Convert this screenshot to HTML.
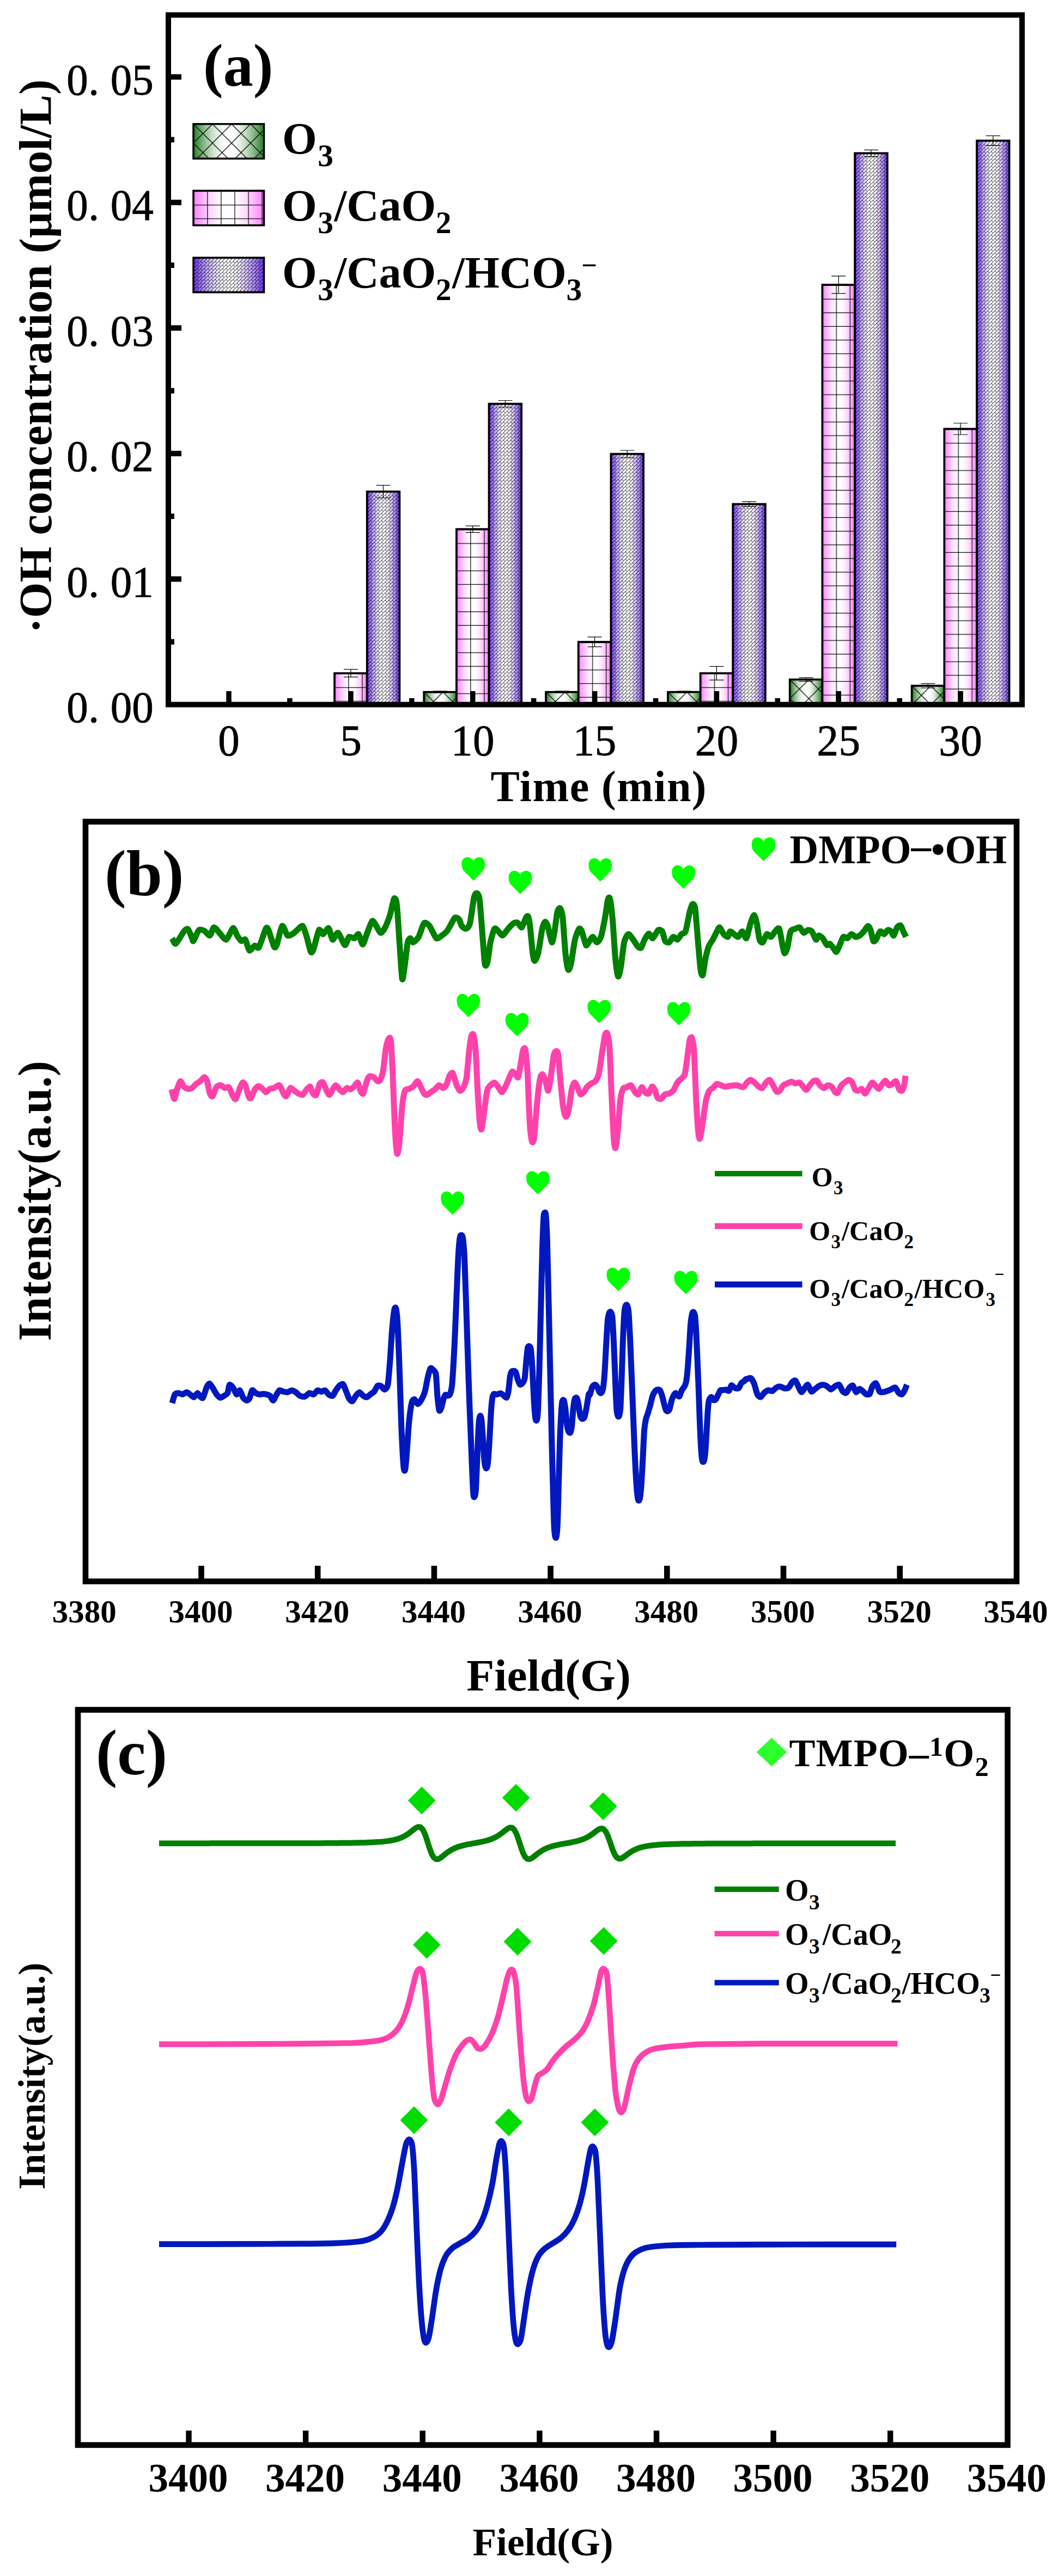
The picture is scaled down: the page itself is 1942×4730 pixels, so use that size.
<!DOCTYPE html>
<html><head><meta charset="utf-8"><title>figure</title>
<style>html,body{margin:0;padding:0;background:#fff}svg{display:block}text{font-family:"Liberation Serif", serif;fill:#000}</style></head><body>
<svg width="1942" height="4730" viewBox="0 0 1942 4730">
<rect width="1942" height="4730" fill="#fff"/>
<defs>
<linearGradient id="gG" x1="0" x2="1" y1="0" y2="0"><stop offset="0.00" stop-color="#237d23"/><stop offset="0.05" stop-color="#459145"/><stop offset="0.10" stop-color="#67a567"/><stop offset="0.15" stop-color="#87b887"/><stop offset="0.20" stop-color="#a4c9a4"/><stop offset="0.25" stop-color="#bfd9bf"/><stop offset="0.30" stop-color="#d5e6d5"/><stop offset="0.35" stop-color="#e7f1e7"/><stop offset="0.40" stop-color="#f4f9f4"/><stop offset="0.45" stop-color="#fcfdfc"/><stop offset="0.50" stop-color="#ffffff"/><stop offset="0.55" stop-color="#fcfdfc"/><stop offset="0.60" stop-color="#f4f9f4"/><stop offset="0.65" stop-color="#e7f1e7"/><stop offset="0.70" stop-color="#d5e6d5"/><stop offset="0.75" stop-color="#bfd9bf"/><stop offset="0.80" stop-color="#a4c9a4"/><stop offset="0.85" stop-color="#87b887"/><stop offset="0.90" stop-color="#67a567"/><stop offset="0.95" stop-color="#459145"/><stop offset="1.00" stop-color="#237d23"/></linearGradient>
<linearGradient id="gP" x1="0" x2="1" y1="0" y2="0"><stop offset="0.00" stop-color="#ff7dff"/><stop offset="0.05" stop-color="#ff91ff"/><stop offset="0.10" stop-color="#ffa5ff"/><stop offset="0.15" stop-color="#ffb8ff"/><stop offset="0.20" stop-color="#ffc9ff"/><stop offset="0.25" stop-color="#ffd9ff"/><stop offset="0.30" stop-color="#ffe6ff"/><stop offset="0.35" stop-color="#fff1ff"/><stop offset="0.40" stop-color="#fff9ff"/><stop offset="0.45" stop-color="#fffdff"/><stop offset="0.50" stop-color="#ffffff"/><stop offset="0.55" stop-color="#fffdff"/><stop offset="0.60" stop-color="#fff9ff"/><stop offset="0.65" stop-color="#fff1ff"/><stop offset="0.70" stop-color="#ffe6ff"/><stop offset="0.75" stop-color="#ffd9ff"/><stop offset="0.80" stop-color="#ffc9ff"/><stop offset="0.85" stop-color="#ffb8ff"/><stop offset="0.90" stop-color="#ffa5ff"/><stop offset="0.95" stop-color="#ff91ff"/><stop offset="1.00" stop-color="#ff7dff"/></linearGradient>
<linearGradient id="gV" x1="0" x2="1" y1="0" y2="0"><stop offset="0.00" stop-color="#6c30f2"/><stop offset="0.05" stop-color="#8350f4"/><stop offset="0.10" stop-color="#9970f6"/><stop offset="0.15" stop-color="#af8ef8"/><stop offset="0.20" stop-color="#c2aafa"/><stop offset="0.25" stop-color="#d4c2fb"/><stop offset="0.30" stop-color="#e3d7fd"/><stop offset="0.35" stop-color="#efe8fe"/><stop offset="0.40" stop-color="#f8f5fe"/><stop offset="0.45" stop-color="#fdfcff"/><stop offset="0.50" stop-color="#ffffff"/><stop offset="0.55" stop-color="#fdfcff"/><stop offset="0.60" stop-color="#f8f5fe"/><stop offset="0.65" stop-color="#efe8fe"/><stop offset="0.70" stop-color="#e3d7fd"/><stop offset="0.75" stop-color="#d4c2fb"/><stop offset="0.80" stop-color="#c2aafa"/><stop offset="0.85" stop-color="#af8ef8"/><stop offset="0.90" stop-color="#9970f6"/><stop offset="0.95" stop-color="#8350f4"/><stop offset="1.00" stop-color="#6c30f2"/></linearGradient>
<pattern id="pX" width="35" height="35" patternUnits="userSpaceOnUse"><path d="M-2,-2L37,37M37,-2L-2,37" stroke="#000" stroke-width="1.3" fill="none"/></pattern>
<pattern id="pGrid" width="25.07" height="25.07" patternUnits="userSpaceOnUse"><path d="M0.8,0V26M0,1.4H26" stroke="#000" stroke-width="1.2" fill="none"/></pattern>
<pattern id="pW" width="13.30" height="13.30" patternUnits="userSpaceOnUse"><g stroke="#000" stroke-width="0.9"><line x1="-1.65" y1="-5.00" x2="-5.00" y2="-1.65"/><line x1="5.00" y1="-5.00" x2="-5.00" y2="5.00"/><line x1="11.65" y1="-5.00" x2="-5.00" y2="11.65"/><line x1="18.30" y1="-5.00" x2="-5.00" y2="18.30"/><line x1="24.95" y1="-5.00" x2="-5.00" y2="24.95"/><line x1="31.60" y1="-5.00" x2="-5.00" y2="31.60"/><line x1="0.00" y1="0.00" x2="3.33" y2="3.33"/><line x1="0.00" y1="6.65" x2="3.33" y2="9.98"/><line x1="6.65" y1="0.00" x2="9.98" y2="3.33"/><line x1="0.00" y1="13.30" x2="3.33" y2="16.62"/><line x1="6.65" y1="6.65" x2="9.98" y2="9.98"/><line x1="13.30" y1="0.00" x2="16.62" y2="3.33"/><line x1="6.65" y1="13.30" x2="9.98" y2="16.62"/><line x1="13.30" y1="6.65" x2="16.62" y2="9.98"/><line x1="13.30" y1="13.30" x2="16.62" y2="16.62"/></g></pattern>
</defs>
<g id="bars">
<g transform="translate(614.0,1236.2)"><rect width="59.7" height="57.5" fill="url(#gP)"/><rect width="59.7" height="57.5" fill="url(#pGrid)" stroke="#000" stroke-width="3.7"/></g>
<path d="M643.9,1229.2V1243.2M630.9,1229.2H656.9M630.9,1243.2H656.9" stroke="#000" stroke-width="1.2" fill="none"/>
<g transform="translate(673.7,902.6)"><rect width="59.7" height="391.2" fill="url(#gV)"/><rect width="59.7" height="391.2" fill="url(#pW)" stroke="#000" stroke-width="3.7"/></g>
<path d="M703.5,891.1V914.1M690.5,891.1H716.5M690.5,914.1H716.5" stroke="#000" stroke-width="1.2" fill="none"/>
<g transform="translate(778.2,1270.7)"><rect width="59.7" height="23.0" fill="url(#gG)"/><rect width="59.7" height="23.0" fill="url(#pX)" stroke="#000" stroke-width="3.7"/></g>
<path d="M808.0,1269.2V1272.2M795.0,1269.2H821.0M795.0,1272.2H821.0" stroke="#000" stroke-width="1.2" fill="none"/>
<g transform="translate(837.9,971.6)"><rect width="59.7" height="322.1" fill="url(#gP)"/><rect width="59.7" height="322.1" fill="url(#pGrid)" stroke="#000" stroke-width="3.7"/></g>
<path d="M867.7,965.6V977.6M854.7,965.6H880.7M854.7,977.6H880.7" stroke="#000" stroke-width="1.2" fill="none"/>
<g transform="translate(897.5,741.5)"><rect width="59.7" height="552.2" fill="url(#gV)"/><rect width="59.7" height="552.2" fill="url(#pW)" stroke="#000" stroke-width="3.7"/></g>
<path d="M927.4,735.5V747.5M914.4,735.5H940.4M914.4,747.5H940.4" stroke="#000" stroke-width="1.2" fill="none"/>
<g transform="translate(1002.0,1270.7)"><rect width="59.7" height="23.0" fill="url(#gG)"/><rect width="59.7" height="23.0" fill="url(#pX)" stroke="#000" stroke-width="3.7"/></g>
<path d="M1031.9,1269.2V1272.2M1018.9,1269.2H1044.9M1018.9,1272.2H1044.9" stroke="#000" stroke-width="1.2" fill="none"/>
<g transform="translate(1061.7,1178.7)"><rect width="59.7" height="115.0" fill="url(#gP)"/><rect width="59.7" height="115.0" fill="url(#pGrid)" stroke="#000" stroke-width="3.7"/></g>
<path d="M1091.6,1169.7V1187.7M1078.6,1169.7H1104.6M1078.6,1187.7H1104.6" stroke="#000" stroke-width="1.2" fill="none"/>
<g transform="translate(1121.4,833.5)"><rect width="59.7" height="460.2" fill="url(#gV)"/><rect width="59.7" height="460.2" fill="url(#pW)" stroke="#000" stroke-width="3.7"/></g>
<path d="M1151.2,827.0V840.0M1138.2,827.0H1164.2M1138.2,840.0H1164.2" stroke="#000" stroke-width="1.2" fill="none"/>
<g transform="translate(1225.9,1270.7)"><rect width="59.7" height="23.0" fill="url(#gG)"/><rect width="59.7" height="23.0" fill="url(#pX)" stroke="#000" stroke-width="3.7"/></g>
<path d="M1255.7,1269.2V1272.2M1242.7,1269.2H1268.7M1242.7,1272.2H1268.7" stroke="#000" stroke-width="1.2" fill="none"/>
<g transform="translate(1285.6,1236.2)"><rect width="59.7" height="57.5" fill="url(#gP)"/><rect width="59.7" height="57.5" fill="url(#pGrid)" stroke="#000" stroke-width="3.7"/></g>
<path d="M1315.4,1223.7V1248.7M1302.4,1223.7H1328.4M1302.4,1248.7H1328.4" stroke="#000" stroke-width="1.2" fill="none"/>
<g transform="translate(1345.2,925.6)"><rect width="59.7" height="368.2" fill="url(#gV)"/><rect width="59.7" height="368.2" fill="url(#pW)" stroke="#000" stroke-width="3.7"/></g>
<path d="M1375.1,921.1V930.1M1362.1,921.1H1388.1M1362.1,930.1H1388.1" stroke="#000" stroke-width="1.2" fill="none"/>
<g transform="translate(1449.7,1247.7)"><rect width="59.7" height="46.0" fill="url(#gG)"/><rect width="59.7" height="46.0" fill="url(#pX)" stroke="#000" stroke-width="3.7"/></g>
<path d="M1479.6,1244.3V1251.1M1466.6,1244.3H1492.6M1466.6,1251.1H1492.6" stroke="#000" stroke-width="1.2" fill="none"/>
<g transform="translate(1509.4,522.9)"><rect width="59.7" height="770.8" fill="url(#gP)"/><rect width="59.7" height="770.8" fill="url(#pGrid)" stroke="#000" stroke-width="3.7"/></g>
<path d="M1539.2,506.9V538.9M1526.2,506.9H1552.2M1526.2,538.9H1552.2" stroke="#000" stroke-width="1.2" fill="none"/>
<g transform="translate(1569.1,281.3)"><rect width="59.7" height="1012.4" fill="url(#gV)"/><rect width="59.7" height="1012.4" fill="url(#pW)" stroke="#000" stroke-width="3.7"/></g>
<path d="M1598.9,275.3V287.3M1585.9,275.3H1611.9M1585.9,287.3H1611.9" stroke="#000" stroke-width="1.2" fill="none"/>
<g transform="translate(1673.6,1259.2)"><rect width="59.7" height="34.5" fill="url(#gG)"/><rect width="59.7" height="34.5" fill="url(#pX)" stroke="#000" stroke-width="3.7"/></g>
<path d="M1703.4,1255.2V1263.2M1690.4,1255.2H1716.4M1690.4,1263.2H1716.4" stroke="#000" stroke-width="1.2" fill="none"/>
<g transform="translate(1733.3,787.5)"><rect width="59.7" height="506.2" fill="url(#gP)"/><rect width="59.7" height="506.2" fill="url(#pGrid)" stroke="#000" stroke-width="3.7"/></g>
<path d="M1763.1,777.0V798.0M1750.1,777.0H1776.1M1750.1,798.0H1776.1" stroke="#000" stroke-width="1.2" fill="none"/>
<g transform="translate(1792.9,258.3)"><rect width="59.7" height="1035.5" fill="url(#gV)"/><rect width="59.7" height="1035.5" fill="url(#pW)" stroke="#000" stroke-width="3.7"/></g>
<path d="M1822.8,249.3V267.3M1809.8,249.3H1835.8M1809.8,267.3H1835.8" stroke="#000" stroke-width="1.2" fill="none"/>
</g>
<rect x="309" y="27.5" width="1567" height="1266.25" fill="none" stroke="#000" stroke-width="10"/>
<path d="M313,1063.2H333M313,832.8H333M313,602.2H333M313,371.8H333M313,141.2H333" stroke="#000" stroke-width="10" fill="none"/>
<path d="M313,1178.5H320M313,948.0H320M313,717.5H320M313,487.0H320M313,256.5H320" stroke="#000" stroke-width="10" fill="none"/>
<path d="M420.0,1290V1269M643.9,1290V1269M867.7,1290V1269M1091.6,1290V1269M1315.4,1290V1269M1539.2,1290V1269M1763.1,1290V1269" stroke="#000" stroke-width="9.5" fill="none"/>
<path d="M531.9,1290V1282M755.8,1290V1282M979.6,1290V1282M1203.5,1290V1282M1427.3,1290V1282M1651.2,1290V1282" stroke="#000" stroke-width="9.5" fill="none"/>
<g font-size="79" font-weight="normal" text-anchor="middle" stroke="#000" stroke-width="0.9">
<text transform="translate(142.0,1326.0) scale(1,1.03)">0</text><text transform="translate(172.0,1326.0) scale(1,1.03)">.</text><text transform="translate(222.5,1326.0) scale(1,1.03)">0</text><text transform="translate(262.0,1326.0) scale(1,1.03)">0</text>
<text transform="translate(142.0,1095.5) scale(1,1.03)">0</text><text transform="translate(172.0,1095.5) scale(1,1.03)">.</text><text transform="translate(222.5,1095.5) scale(1,1.03)">0</text><text transform="translate(262.0,1095.5) scale(1,1.03)">1</text>
<text transform="translate(142.0,865.0) scale(1,1.03)">0</text><text transform="translate(172.0,865.0) scale(1,1.03)">.</text><text transform="translate(222.5,865.0) scale(1,1.03)">0</text><text transform="translate(262.0,865.0) scale(1,1.03)">2</text>
<text transform="translate(142.0,634.5) scale(1,1.03)">0</text><text transform="translate(172.0,634.5) scale(1,1.03)">.</text><text transform="translate(222.5,634.5) scale(1,1.03)">0</text><text transform="translate(262.0,634.5) scale(1,1.03)">3</text>
<text transform="translate(142.0,404.1) scale(1,1.03)">0</text><text transform="translate(172.0,404.1) scale(1,1.03)">.</text><text transform="translate(222.5,404.1) scale(1,1.03)">0</text><text transform="translate(262.0,404.1) scale(1,1.03)">4</text>
<text transform="translate(142.0,173.6) scale(1,1.03)">0</text><text transform="translate(172.0,173.6) scale(1,1.03)">.</text><text transform="translate(222.5,173.6) scale(1,1.03)">0</text><text transform="translate(262.0,173.6) scale(1,1.03)">5</text>
<text transform="translate(420.0,1387.0) scale(1,1.03)">0</text>
<text transform="translate(643.9,1387.0) scale(1,1.03)">5</text>
<text transform="translate(847.7,1387.0) scale(1,1.03)">1</text><text transform="translate(887.7,1387.0) scale(1,1.03)">0</text>
<text transform="translate(1071.6,1387.0) scale(1,1.03)">1</text><text transform="translate(1111.6,1387.0) scale(1,1.03)">5</text>
<text transform="translate(1295.4,1387.0) scale(1,1.03)">2</text><text transform="translate(1335.4,1387.0) scale(1,1.03)">0</text>
<text transform="translate(1519.2,1387.0) scale(1,1.03)">2</text><text transform="translate(1559.2,1387.0) scale(1,1.03)">5</text>
<text transform="translate(1743.1,1387.0) scale(1,1.03)">3</text><text transform="translate(1783.1,1387.0) scale(1,1.03)">0</text>
</g>
<text x="1098.5" y="1471.0" font-size="80.0" font-weight="bold" text-anchor="middle" textLength="396" lengthAdjust="spacing">Time (min)</text>
<text transform="translate(94,654.3) rotate(-90)" font-size="84.3" font-weight="bold" text-anchor="middle">·OH concentration (μmol/L)</text>
<text x="373.0" y="156.5" font-size="110.0" font-weight="bold" text-anchor="start" >(a)</text>
<g transform="translate(355,227.7)"><rect width="129.5" height="63.5" fill="url(#gG)"/><rect width="129.5" height="63.5" fill="url(#pX)" stroke="#000" stroke-width="3.5"/></g>
<g transform="translate(355,350.2)"><rect width="129.5" height="63.5" fill="url(#gP)"/><rect width="129.5" height="63.5" fill="url(#pGrid)" stroke="#000" stroke-width="3.5"/></g>
<g transform="translate(355,473.2)"><rect width="129.5" height="63.5" fill="url(#gV)"/><rect width="129.5" height="63.5" fill="url(#pW)" stroke="#000" stroke-width="3.5"/></g>
<text font-size="82.0" font-weight="bold" letter-spacing="0.00"><tspan x="517.9" y="282.0">O</tspan><tspan x="583.3" y="304.6" font-size="57.4">3</tspan></text>
<text font-size="82.0" font-weight="bold" letter-spacing="0.00"><tspan x="517.9" y="405.0">O</tspan><tspan x="583.3" y="427.6" font-size="57.4">3</tspan><tspan x="613.5" y="405.0">/CaO</tspan><tspan x="799.7" y="427.6" font-size="57.4">2</tspan></text>
<text font-size="82.0" font-weight="bold" letter-spacing="0.00"><tspan x="517.9" y="528.0">O</tspan><tspan x="583.3" y="550.5" font-size="57.4">3</tspan><tspan x="613.5" y="528.0">/CaO</tspan><tspan x="799.7" y="550.5" font-size="57.4">2</tspan><tspan x="830.1" y="528.0">/HCO</tspan><tspan x="1039.6" y="550.5" font-size="57.4">3</tspan><tspan x="1067.2" y="504.4" font-size="50.5">−</tspan></text>
<rect x="157" y="1508.75" width="1709" height="1395" fill="none" stroke="#000" stroke-width="10.6"/>
<path d="M369.5,2899V2875M583.2,2899V2875M796.9,2899V2875M1010.6,2899V2875M1224.3,2899V2875M1438.0,2899V2875M1651.7,2899V2875" stroke="#000" stroke-width="10.6" fill="none"/>
<g font-size="59" font-weight="bold" text-anchor="middle">
<text x="154.8" y="2979">3380</text>
<text x="368.5" y="2979">3400</text>
<text x="582.2" y="2979">3420</text>
<text x="795.9" y="2979">3440</text>
<text x="1009.6" y="2979">3460</text>
<text x="1223.3" y="2979">3480</text>
<text x="1437.0" y="2979">3500</text>
<text x="1650.7" y="2979">3520</text>
<text x="1864.4" y="2979">3540</text>
</g>
<text x="1007.0" y="3104.0" font-size="83.5" font-weight="bold" text-anchor="middle" >Field(G)</text>
<text transform="translate(93,2205) rotate(-90)" font-size="85.8" font-weight="bold" text-anchor="middle">Intensity(a.u.)</text>
<text x="192.0" y="1642.5" font-size="119.0" font-weight="bold" text-anchor="start" >(b)</text>
<path d="M316.0,1722.8C316.8,1724.0 320.0,1734.3 322.5,1732.8C325.1,1731.3 334.9,1713.4 337.6,1710.2C340.3,1707.1 343.3,1704.7 345.1,1706.2C346.9,1707.7 351.4,1720.2 352.6,1722.8C353.8,1725.4 353.6,1729.6 355.1,1727.8C356.6,1726.0 362.7,1710.0 365.1,1707.7C367.5,1705.5 372.7,1708.0 375.1,1709.2C377.5,1710.4 383.1,1718.5 385.2,1717.8C387.3,1717.0 390.6,1703.3 392.7,1702.7C394.8,1702.1 400.0,1710.0 402.7,1712.8C405.4,1715.5 412.2,1726.3 415.2,1725.3C418.2,1724.3 425.3,1705.1 427.7,1704.2C430.1,1703.3 433.5,1714.9 435.3,1717.8C437.1,1720.6 441.0,1726.9 442.8,1727.8C444.6,1728.7 448.5,1723.2 450.3,1725.3C452.1,1727.4 455.7,1744.0 457.8,1745.3C459.9,1746.6 465.7,1737.0 467.8,1736.3C469.9,1735.6 472.9,1743.0 475.3,1739.3C477.7,1735.6 485.8,1709.0 487.9,1705.2C490.0,1701.4 491.1,1703.8 492.9,1707.7C494.7,1711.6 501.1,1734.5 502.9,1737.8C504.7,1741.1 506.1,1739.8 507.9,1735.3C509.7,1730.8 515.5,1702.3 517.9,1700.2C520.3,1698.1 525.5,1716.1 527.9,1717.8C530.3,1719.4 535.8,1715.5 537.9,1714.3C540.1,1713.1 543.4,1709.4 545.5,1707.7C547.6,1706.1 553.4,1698.7 555.5,1700.2C557.6,1701.7 561.2,1714.6 563.0,1720.3C564.8,1726.0 569.0,1745.1 570.5,1747.8C572.0,1750.5 573.7,1747.6 575.5,1742.8C577.3,1738.0 583.4,1711.0 585.5,1707.7C587.6,1704.4 590.9,1715.7 593.1,1715.3C595.2,1714.8 601.0,1703.0 603.1,1704.2C605.2,1705.4 608.5,1724.3 610.6,1725.3C612.7,1726.3 617.9,1711.5 620.6,1712.8C623.3,1714.0 630.7,1734.4 633.1,1735.3C635.5,1736.2 638.5,1721.8 640.6,1720.3C642.7,1718.8 648.6,1723.4 650.7,1722.8C652.8,1722.2 656.4,1713.9 658.2,1715.3C660.0,1716.6 663.9,1734.3 665.7,1734.3C667.5,1734.3 671.1,1720.4 673.2,1715.3C675.3,1710.1 681.1,1693.0 683.2,1691.2C685.3,1689.4 688.9,1697.6 690.7,1700.2C692.5,1702.8 696.4,1712.1 698.3,1712.8C700.1,1713.4 703.7,1709.1 705.8,1705.2C707.9,1701.3 713.7,1686.8 715.8,1680.2C717.9,1673.6 721.8,1652.5 723.3,1650.1C724.8,1647.7 727.1,1650.5 728.3,1660.2C729.5,1669.8 732.1,1713.8 733.3,1730.3C734.5,1746.8 737.1,1793.1 738.3,1797.9C739.5,1802.7 742.1,1778.5 743.3,1770.4C744.5,1762.2 747.1,1736.0 748.3,1730.3C749.5,1724.6 752.2,1722.8 753.4,1722.8C754.6,1722.8 756.6,1730.6 758.4,1730.3C760.2,1730.0 766.0,1724.5 768.4,1720.3C770.8,1716.1 776.0,1697.6 778.4,1695.2C780.8,1692.8 785.7,1696.9 788.4,1700.2C791.1,1703.5 798.2,1720.7 800.9,1722.8C803.7,1724.9 808.7,1719.3 811.0,1717.8C813.3,1716.3 818.0,1712.7 820.0,1710.3C822.0,1707.9 825.7,1700.8 827.5,1697.8C829.3,1694.8 833.2,1686.4 835.0,1685.2C836.8,1684.0 841.0,1685.9 842.5,1687.7C844.0,1689.5 846.0,1698.2 847.6,1700.3C849.1,1702.4 853.3,1705.9 855.1,1705.3C856.9,1704.7 860.8,1702.2 862.6,1695.3C864.4,1688.3 868.6,1654.3 870.1,1647.7C871.6,1641.1 873.9,1639.9 875.1,1640.2C876.3,1640.5 878.9,1641.8 880.1,1650.2C881.3,1658.6 883.9,1695.9 885.1,1710.3C886.3,1724.7 888.9,1763.8 890.1,1770.4C891.3,1777.0 893.9,1770.2 895.1,1765.4C896.3,1760.6 898.6,1737.5 900.2,1730.3C901.7,1723.1 905.9,1707.7 907.7,1705.3C909.5,1702.9 913.4,1708.8 915.2,1710.3C917.0,1711.8 920.6,1718.4 922.7,1717.8C924.8,1717.2 930.3,1708.0 932.7,1705.3C935.1,1702.6 940.6,1696.6 942.7,1695.3C944.8,1693.9 948.4,1693.4 950.2,1694.3C952.0,1695.2 956.0,1703.9 957.8,1702.8C959.6,1701.7 963.9,1687.6 965.3,1685.2C966.7,1682.8 968.4,1680.9 969.3,1682.7C970.2,1684.5 971.8,1692.1 972.8,1700.3C973.8,1708.4 976.8,1742.7 977.8,1750.4C978.8,1758.1 980.1,1764.4 981.3,1764.4C982.5,1764.4 986.1,1757.5 987.8,1750.4C989.5,1743.3 993.8,1712.2 995.3,1705.3C996.8,1698.4 999.1,1693.4 1000.3,1692.8C1001.5,1692.1 1003.8,1695.8 1005.3,1700.3C1006.9,1704.8 1011.4,1729.1 1012.9,1730.3C1014.4,1731.5 1016.7,1716.9 1017.9,1710.3C1019.1,1703.7 1021.7,1680.3 1022.9,1675.2C1024.1,1670.1 1026.7,1666.5 1027.9,1667.7C1029.1,1668.9 1031.7,1675.3 1032.9,1685.2C1034.1,1695.2 1036.7,1738.9 1037.9,1750.4C1039.1,1761.8 1041.7,1778.0 1042.9,1780.4C1044.1,1782.8 1046.4,1777.0 1047.9,1770.4C1049.4,1763.8 1053.6,1733.1 1055.4,1725.3C1057.2,1717.5 1061.5,1707.1 1063.0,1705.3C1064.5,1703.5 1066.5,1706.7 1068.0,1710.3C1069.5,1713.9 1074.0,1732.9 1075.5,1735.3C1077.0,1737.7 1079.0,1732.1 1080.5,1730.3C1082.0,1728.5 1086.2,1720.3 1088.0,1720.3C1089.8,1720.3 1093.7,1730.3 1095.5,1730.3C1097.3,1730.3 1101.2,1725.7 1103.0,1720.3C1104.8,1714.9 1109.0,1693.4 1110.5,1685.2C1112.1,1677.1 1114.5,1656.9 1115.6,1652.7C1116.6,1648.5 1118.5,1645.7 1119.6,1650.2C1120.6,1654.7 1123.4,1677.0 1124.6,1690.2C1125.8,1703.5 1128.4,1748.1 1129.6,1760.4C1130.8,1772.7 1133.4,1791.1 1134.6,1792.9C1135.8,1794.7 1138.3,1782.9 1139.6,1775.4C1140.9,1767.9 1144.0,1737.5 1145.6,1730.3C1147.2,1723.1 1151.3,1716.2 1153.1,1715.3C1154.9,1714.4 1158.5,1720.1 1160.6,1722.8C1162.7,1725.5 1168.7,1735.7 1170.7,1737.8C1172.6,1739.9 1175.2,1741.8 1176.7,1740.3C1178.2,1738.8 1181.5,1728.4 1183.2,1725.3C1184.9,1722.2 1188.9,1714.6 1190.7,1714.3C1192.5,1714.0 1196.1,1723.6 1198.2,1722.8C1200.3,1722.0 1206.1,1709.3 1208.2,1707.8C1210.3,1706.3 1214.2,1707.9 1215.7,1710.3C1217.2,1712.7 1219.3,1725.4 1220.8,1727.8C1222.3,1730.2 1226.5,1731.2 1228.3,1730.3C1230.1,1729.4 1234.0,1720.9 1235.8,1720.3C1237.6,1719.7 1241.5,1725.9 1243.3,1725.3C1245.1,1724.7 1249.0,1717.1 1250.8,1715.3C1252.6,1713.5 1256.5,1715.1 1258.3,1710.3C1260.1,1705.5 1264.3,1681.2 1265.8,1675.2C1267.3,1669.2 1269.6,1661.1 1270.9,1660.2C1272.1,1659.3 1274.7,1659.9 1275.9,1667.7C1277.1,1675.5 1279.7,1711.8 1280.9,1725.3C1282.1,1738.8 1284.8,1772.6 1285.9,1780.4C1287.0,1788.2 1288.8,1792.8 1289.9,1790.4C1291.0,1788.0 1293.6,1766.7 1294.9,1760.4C1296.2,1754.1 1299.3,1742.0 1300.9,1737.8C1302.5,1733.6 1306.6,1728.6 1308.4,1725.3C1310.2,1722.0 1314.4,1713.0 1315.9,1710.3C1317.4,1707.6 1319.4,1702.2 1320.9,1702.8C1322.4,1703.4 1326.7,1713.2 1328.5,1715.3C1330.3,1717.4 1334.6,1720.9 1336.0,1720.3C1337.4,1719.7 1338.6,1710.9 1340.0,1710.3C1341.4,1709.7 1345.7,1714.1 1347.5,1715.3C1349.3,1716.5 1353.2,1720.9 1355.0,1720.3C1356.8,1719.7 1360.7,1710.0 1362.5,1710.3C1364.3,1710.6 1368.3,1724.6 1370.1,1722.8C1371.9,1721.0 1375.9,1700.4 1377.6,1695.3C1379.3,1690.1 1382.7,1680.2 1384.1,1680.2C1385.5,1680.2 1387.9,1689.8 1389.1,1695.3C1390.3,1700.7 1392.8,1721.1 1394.1,1725.3C1395.4,1729.5 1398.5,1731.5 1400.1,1730.3C1401.7,1729.1 1405.8,1716.5 1407.6,1715.3C1409.4,1714.1 1413.3,1720.9 1415.1,1720.3C1416.9,1719.7 1420.9,1712.1 1422.7,1710.3C1424.5,1708.5 1428.5,1702.3 1430.2,1705.3C1431.8,1708.3 1435.0,1729.9 1436.2,1735.3C1437.4,1740.7 1439.1,1749.8 1440.2,1750.4C1441.3,1751.0 1443.9,1745.1 1445.2,1740.3C1446.5,1735.5 1449.4,1714.5 1451.2,1710.3C1453.0,1706.1 1458.2,1706.2 1460.2,1705.3C1462.2,1704.4 1465.9,1701.9 1467.7,1702.8C1469.5,1703.7 1473.5,1712.2 1475.3,1712.8C1477.1,1713.4 1481.0,1708.1 1482.8,1707.8C1484.6,1707.5 1488.5,1708.2 1490.3,1710.3C1492.1,1712.4 1496.3,1724.4 1497.8,1725.3C1499.3,1726.2 1501.3,1718.1 1502.8,1717.8C1504.3,1717.5 1508.5,1720.7 1510.3,1722.8C1512.1,1724.9 1516.3,1734.1 1517.8,1735.3C1519.3,1736.5 1521.5,1732.2 1522.8,1732.8C1524.2,1733.4 1527.9,1738.5 1529.4,1740.3C1530.9,1742.1 1533.9,1748.5 1535.4,1747.9C1536.8,1747.3 1539.9,1738.6 1541.4,1735.3C1542.9,1732.0 1546.2,1721.8 1547.9,1720.3C1549.6,1718.8 1553.6,1723.4 1555.4,1722.8C1557.2,1722.2 1561.1,1715.6 1562.9,1715.3C1564.7,1715.0 1568.6,1720.0 1570.4,1720.3C1572.2,1720.6 1576.1,1719.0 1577.9,1717.8C1579.8,1716.6 1583.7,1712.4 1585.5,1710.3C1587.3,1708.2 1591.5,1700.6 1593.0,1700.3C1594.5,1700.0 1596.8,1704.5 1598.0,1707.8C1599.2,1711.1 1601.8,1725.7 1603.0,1727.8C1604.2,1729.9 1606.5,1727.4 1608.0,1725.3C1609.5,1723.2 1613.7,1711.5 1615.5,1710.3C1617.3,1709.1 1621.4,1715.6 1623.0,1715.3C1624.7,1715.0 1628.0,1708.4 1629.5,1707.8C1631.0,1707.2 1634.2,1709.1 1635.6,1710.3C1636.9,1711.5 1639.2,1718.7 1640.6,1717.8C1641.9,1716.9 1645.1,1705.0 1646.6,1702.8C1648.1,1700.5 1651.7,1698.4 1653.1,1699.3C1654.5,1700.2 1656.9,1707.8 1658.1,1710.3C1659.3,1712.8 1662.5,1719.1 1663.1,1720.3" fill="none" stroke="#008000" stroke-width="11" stroke-linejoin="round"/>
<path d="M315.0,2000.3C315.6,2002.4 318.8,2017.9 320.0,2017.9C321.2,2017.9 323.7,2004.2 325.0,2000.3C326.4,1996.4 329.6,1985.9 331.1,1985.3C332.6,1984.7 335.9,1993.6 337.6,1995.3C339.3,1997.0 343.3,1999.0 345.1,1999.3C346.9,1999.6 350.8,1998.9 352.6,1997.8C354.4,1996.8 358.3,1991.8 360.1,1990.3C361.9,1988.8 365.8,1986.8 367.6,1985.3C369.4,1983.8 373.6,1977.8 375.1,1977.8C376.6,1977.8 378.9,1981.7 380.2,1985.3C381.4,1988.9 384.0,2004.5 385.2,2007.9C386.4,2011.2 388.7,2014.4 390.2,2012.9C391.7,2011.4 395.9,1997.7 397.7,1995.3C399.5,1992.9 403.4,1992.5 405.2,1992.8C407.0,1993.1 410.9,1997.4 412.7,1997.8C414.5,1998.3 418.4,1994.5 420.2,1996.3C422.0,1998.1 426.2,2010.3 427.7,2012.9C429.2,2015.4 431.4,2019.4 432.8,2017.9C434.1,2016.4 437.8,2003.9 439.3,2000.3C440.8,1996.7 444.0,1988.7 445.3,1987.8C446.6,1986.9 449.0,1989.8 450.3,1992.8C451.6,1995.8 455.1,2010.0 456.3,2012.9C457.5,2015.7 458.9,2017.9 460.3,2016.4C461.7,2014.9 466.1,2003.0 467.8,2000.3C469.5,1997.7 472.8,1994.6 474.3,1994.3C475.8,1994.0 478.7,1996.5 480.3,1997.8C482.0,1999.2 486.1,2005.2 487.9,2005.3C489.7,2005.5 493.6,2000.2 495.4,1999.3C497.2,1998.4 500.8,1998.6 502.9,1997.8C505.0,1997.1 510.8,1991.6 512.9,1992.8C515.0,1994.0 518.9,2005.4 520.4,2007.9C521.9,2010.3 523.9,2014.1 525.4,2012.9C526.9,2011.7 531.1,1999.0 532.9,1997.8C534.7,1996.6 538.7,2001.6 540.5,2002.8C542.3,2004.0 546.2,2007.0 548.0,2007.9C549.8,2008.8 553.7,2011.3 555.5,2010.4C557.3,2009.5 561.3,2002.1 563.0,2000.3C564.7,1998.5 568.1,1994.4 569.5,1995.3C570.9,1996.2 573.2,2006.1 574.5,2007.9C575.8,2009.7 579.1,2012.5 580.5,2010.4C582.0,2008.3 585.0,1993.0 586.5,1990.3C588.0,1987.6 591.5,1986.3 593.1,1987.8C594.6,1989.3 598.2,2000.1 599.6,2002.8C600.9,2005.6 603.3,2010.7 604.6,2010.4C605.9,2010.1 609.1,2002.4 610.6,2000.3C612.0,1998.2 615.1,1992.8 616.6,1992.8C618.1,1992.8 621.5,1998.8 623.1,2000.3C624.7,2001.8 628.0,2005.7 629.6,2005.3C631.2,2005.0 635.0,1998.4 636.6,1997.8C638.3,1997.2 641.6,2000.6 643.1,2000.3C644.7,2000.0 648.0,1996.8 649.7,1995.3C651.3,1993.8 655.2,1986.9 656.7,1987.8C658.1,1988.7 660.5,2000.4 661.7,2002.8C662.9,2005.2 665.3,2010.0 666.7,2007.9C668.1,2005.8 671.8,1989.1 673.2,1985.3C674.6,1981.5 676.7,1977.2 678.2,1976.3C679.7,1975.4 683.9,1976.7 685.7,1977.8C687.5,1978.9 691.7,1984.7 693.2,1985.3C694.7,1985.9 697.0,1985.2 698.3,1982.8C699.5,1980.4 702.1,1972.2 703.3,1965.3C704.5,1958.4 707.1,1932.1 708.3,1925.2C709.5,1918.3 712.2,1909.5 713.3,1907.7C714.4,1905.9 716.4,1902.7 717.3,1910.2C718.2,1917.7 719.9,1951.0 720.8,1970.3C721.7,1989.5 723.8,2052.7 724.8,2070.5C725.8,2088.2 727.8,2114.5 728.8,2118.1C729.8,2121.7 731.7,2111.0 732.8,2100.5C734.0,2090.0 737.1,2042.1 738.3,2030.4C739.6,2018.7 741.8,2006.6 743.3,2002.8C744.8,1999.1 749.0,2000.2 750.9,1999.3C752.7,1998.4 756.6,1997.0 758.4,1995.3C760.2,1993.6 764.4,1985.6 765.9,1985.3C767.4,1985.0 769.4,1990.1 770.9,1992.8C772.4,1995.5 776.9,2005.8 778.4,2007.9C779.9,2010.0 781.9,2010.7 783.4,2010.4C784.9,2010.1 789.1,2006.6 790.9,2005.3C792.7,2004.1 796.6,2001.8 798.4,2000.3C800.2,1998.8 804.2,1993.1 806.0,1992.8C807.8,1992.5 811.8,1998.1 813.5,1997.8C815.2,1997.5 818.6,1993.0 820.0,1990.3C821.4,1987.6 823.7,1977.7 825.0,1975.3C826.3,1972.9 829.5,1968.5 831.0,1970.3C832.5,1972.1 836.0,1986.4 837.5,1990.3C839.1,1994.2 842.5,2001.9 844.0,2002.8C845.5,2003.7 848.6,2000.5 850.1,1997.8C851.5,1995.1 854.7,1988.4 856.1,1980.3C857.4,1972.2 860.0,1939.5 861.1,1930.2C862.2,1920.9 864.1,1906.3 865.1,1902.7C866.0,1899.0 868.1,1896.8 869.1,1900.2C870.1,1903.5 872.1,1917.0 873.1,1930.2C874.1,1943.4 876.1,1994.1 877.1,2010.4C878.1,2026.6 880.3,2057.9 881.1,2065.5C882.0,2073.0 883.3,2075.4 884.1,2073.0C885.0,2070.6 886.9,2053.8 888.1,2045.4C889.3,2037.0 892.7,2009.2 894.1,2002.8C895.6,1996.5 898.5,1994.6 900.2,1992.8C901.8,1991.0 906.0,1987.5 907.7,1987.8C909.3,1988.1 912.6,1993.2 914.2,1995.3C915.8,1997.4 919.6,2005.3 921.2,2005.3C922.8,2005.3 926.1,1998.3 927.7,1995.3C929.3,1992.3 932.7,1983.6 934.2,1980.3C935.7,1977.0 938.8,1968.7 940.2,1967.8C941.7,1966.9 944.9,1971.6 946.2,1972.8C947.6,1974.0 950.0,1980.5 951.2,1977.8C952.4,1975.1 955.2,1956.3 956.3,1950.2C957.3,1944.2 959.3,1930.4 960.3,1927.7C961.2,1925.0 963.3,1922.6 964.3,1927.7C965.2,1932.8 967.3,1954.4 968.3,1970.3C969.2,1986.2 971.3,2045.4 972.3,2060.5C973.2,2075.5 975.3,2091.9 976.3,2095.5C977.3,2099.1 979.2,2098.3 980.3,2090.5C981.4,2082.7 984.0,2043.6 985.3,2030.4C986.6,2017.2 990.0,1987.2 991.3,1980.3C992.6,1973.4 995.1,1972.2 996.3,1972.8C997.5,1973.4 1000.1,1981.7 1001.3,1985.3C1002.5,1988.9 1005.1,2004.0 1006.4,2002.8C1007.6,2001.6 1010.2,1983.1 1011.4,1975.3C1012.6,1967.5 1015.3,1943.1 1016.4,1937.7C1017.5,1932.3 1019.4,1930.5 1020.4,1930.2C1021.3,1929.9 1023.4,1929.2 1024.4,1935.2C1025.3,1941.2 1027.3,1968.9 1028.4,1980.3C1029.5,1991.7 1032.2,2022.0 1033.4,2030.4C1034.6,2038.8 1037.2,2049.2 1038.4,2050.4C1039.6,2051.6 1042.1,2046.4 1043.4,2040.4C1044.7,2034.4 1048.1,2006.7 1049.4,2000.3C1050.8,1994.0 1053.2,1988.4 1054.4,1987.8C1055.6,1987.2 1058.1,1992.7 1059.5,1995.3C1060.8,1997.9 1064.0,2008.2 1065.5,2009.4C1066.9,2010.6 1070.0,2007.0 1071.5,2005.3C1073.0,2003.7 1076.3,1997.3 1078.0,1995.3C1079.7,1993.4 1083.7,1990.5 1085.5,1989.3C1087.3,1988.1 1091.3,1987.6 1093.0,1985.3C1094.7,1983.0 1098.0,1976.9 1099.5,1970.3C1101.0,1963.7 1104.2,1938.6 1105.5,1930.2C1106.9,1921.8 1109.5,1904.1 1110.5,1900.2C1111.6,1896.2 1113.6,1895.2 1114.6,1897.6C1115.5,1900.1 1117.6,1906.7 1118.6,1920.2C1119.5,1933.7 1121.6,1989.9 1122.6,2010.4C1123.5,2030.8 1125.7,2078.8 1126.6,2090.5C1127.4,2102.2 1128.7,2109.2 1129.6,2108.0C1130.4,2106.8 1132.5,2091.0 1133.6,2080.5C1134.7,2070.0 1137.4,2030.1 1138.6,2020.4C1139.8,2010.6 1142.2,2002.2 1143.6,1999.3C1145.1,1996.5 1148.9,1997.1 1150.6,1996.3C1152.4,1995.6 1156.3,1991.7 1158.1,1992.8C1159.9,1993.9 1164.0,2003.4 1165.7,2005.3C1167.3,2007.3 1170.2,2010.4 1171.7,2009.4C1173.2,2008.3 1176.6,1996.7 1178.2,1996.3C1179.7,1996.0 1183.2,2005.0 1184.7,2006.4C1186.2,2007.7 1189.3,2009.2 1190.7,2007.9C1192.1,2006.5 1195.4,1996.2 1196.7,1995.3C1198.0,1994.4 1200.5,1997.9 1201.7,2000.3C1202.9,2002.7 1205.3,2013.3 1206.7,2015.4C1208.1,2017.5 1211.6,2018.6 1213.2,2017.9C1214.9,2017.2 1219.0,2010.6 1220.8,2009.4C1222.6,2008.2 1226.5,2008.6 1228.3,2007.9C1230.1,2007.1 1234.0,2005.2 1235.8,2002.8C1237.6,2000.4 1241.5,1990.5 1243.3,1987.8C1245.1,1985.1 1249.2,1982.1 1250.8,1980.3C1252.4,1978.5 1255.5,1977.6 1256.8,1972.8C1258.1,1968.0 1260.8,1947.7 1261.8,1940.2C1262.9,1932.7 1264.9,1914.4 1265.8,1910.2C1266.8,1906.0 1268.9,1902.8 1269.8,1905.2C1270.8,1907.6 1272.9,1916.4 1273.9,1930.2C1274.8,1944.0 1276.9,2002.3 1277.9,2020.4C1278.8,2038.4 1281.0,2072.1 1281.9,2080.5C1282.7,2088.9 1283.9,2092.9 1284.9,2090.5C1285.8,2088.1 1288.6,2068.9 1289.9,2060.5C1291.2,2052.0 1294.5,2027.3 1295.9,2020.4C1297.3,2013.5 1300.4,2005.6 1301.9,2002.8C1303.4,2000.1 1306.7,1999.3 1308.4,1997.8C1310.1,1996.3 1314.1,1990.9 1315.9,1990.3C1317.7,1989.7 1321.6,1992.2 1323.4,1992.8C1325.3,1993.4 1329.0,1995.2 1331.0,1995.3C1333.0,1995.5 1337.4,1994.1 1340.0,1993.8C1342.6,1993.5 1349.6,1992.5 1352.5,1992.8C1355.4,1993.1 1361.8,1996.9 1364.0,1996.3C1366.3,1995.7 1369.4,1989.4 1371.1,1987.8C1372.7,1986.2 1375.9,1982.8 1377.6,1982.8C1379.3,1982.8 1383.3,1986.3 1385.1,1987.8C1386.9,1989.3 1390.9,1994.1 1392.6,1995.3C1394.3,1996.5 1397.5,1998.7 1399.1,1997.8C1400.7,1996.9 1404.5,1989.6 1406.1,1987.8C1407.7,1986.0 1411.1,1982.2 1412.6,1982.8C1414.2,1983.4 1417.6,1990.2 1419.1,1992.8C1420.7,1995.4 1423.7,2003.1 1425.2,2004.3C1426.6,2005.6 1429.7,2004.2 1431.2,2002.8C1432.7,2001.5 1436.0,1994.4 1437.7,1992.8C1439.4,1991.2 1443.4,1990.1 1445.2,1989.3C1447.0,1988.5 1450.9,1986.3 1452.7,1986.3C1454.5,1986.3 1458.4,1989.1 1460.2,1989.3C1462.0,1989.5 1466.1,1987.1 1467.7,1987.8C1469.4,1988.5 1472.8,1993.7 1474.3,1995.3C1475.8,1997.0 1478.8,2001.6 1480.3,2001.3C1481.7,2001.0 1484.8,1994.7 1486.3,1992.8C1487.8,1990.9 1491.2,1986.3 1492.8,1985.3C1494.4,1984.3 1497.8,1983.4 1499.3,1984.3C1500.8,1985.2 1503.7,1991.2 1505.3,1992.8C1506.9,1994.4 1511.1,1997.8 1512.8,1997.8C1514.5,1997.8 1517.7,1993.1 1519.3,1992.8C1521.0,1992.5 1524.7,1993.8 1526.4,1995.3C1528.0,1996.8 1531.5,2004.0 1532.9,2005.3C1534.2,2006.7 1536.5,2007.9 1537.9,2006.4C1539.3,2004.8 1542.9,1995.1 1544.4,1992.8C1545.9,1990.6 1548.8,1989.0 1550.4,1987.8C1552.0,1986.6 1556.2,1982.8 1557.9,1982.8C1559.6,1982.8 1563.0,1985.7 1564.4,1987.8C1565.8,1989.9 1568.1,1998.5 1569.4,2000.3C1570.8,2002.1 1574.0,2003.0 1575.4,2002.8C1576.9,2002.7 1580.0,1998.7 1581.5,1999.3C1583.0,1999.9 1586.4,2008.0 1588.0,2007.9C1589.5,2007.7 1593.0,2000.2 1594.5,1997.8C1596.0,1995.4 1599.0,1988.4 1600.5,1987.8C1601.9,1987.2 1605.0,1991.4 1606.5,1992.8C1608.0,1994.2 1611.5,1999.6 1613.0,1999.3C1614.6,1999.0 1618.0,1992.1 1619.5,1990.3C1621.0,1988.5 1624.1,1984.0 1625.5,1984.3C1627.0,1984.6 1630.0,1992.1 1631.6,1992.8C1633.1,1993.5 1636.5,1991.2 1638.1,1990.3C1639.6,1989.4 1643.1,1984.1 1644.6,1985.3C1646.1,1986.5 1649.3,1998.2 1650.6,2000.3C1651.9,2002.4 1654.5,2003.7 1655.6,2002.8C1656.7,2001.9 1658.8,1996.1 1659.6,1992.8C1660.4,1989.5 1661.8,1977.4 1662.1,1975.3" fill="none" stroke="#ff42ab" stroke-width="11" stroke-linejoin="round"/>
<path d="M316.0,2576.4C316.6,2574.5 319.7,2562.6 321.0,2560.4C322.4,2558.2 325.9,2557.9 327.6,2557.9C329.2,2557.9 333.3,2560.6 335.1,2560.4C336.9,2560.2 340.8,2556.3 342.6,2556.4C344.4,2556.5 348.5,2560.3 350.1,2561.4C351.7,2562.5 354.6,2565.8 356.1,2565.4C357.6,2565.0 361.2,2558.0 362.6,2557.9C364.0,2557.8 366.4,2563.4 367.6,2564.4C368.8,2565.4 371.3,2568.4 372.6,2566.4C374.0,2564.4 377.8,2551.0 379.1,2547.9C380.5,2544.8 382.8,2540.4 384.2,2540.4C385.5,2540.4 388.5,2545.5 390.2,2547.9C391.8,2550.3 396.0,2558.2 397.7,2560.4C399.4,2562.6 402.6,2566.1 404.2,2566.4C405.8,2566.7 409.6,2563.9 411.2,2562.9C412.8,2561.9 416.5,2560.3 417.7,2557.9C418.9,2555.5 420.0,2544.1 421.2,2542.9C422.4,2541.7 426.2,2545.8 427.7,2547.9C429.3,2550.0 432.8,2559.8 434.3,2560.4C435.8,2561.0 438.8,2552.2 440.3,2552.9C441.7,2553.6 444.8,2564.2 446.3,2566.4C447.8,2568.7 451.4,2571.3 452.8,2571.4C454.2,2571.6 456.6,2570.2 457.8,2567.9C459.0,2565.7 461.4,2554.1 462.8,2552.9C464.2,2551.7 467.7,2557.0 469.3,2557.9C470.9,2558.8 474.7,2560.2 476.3,2560.4C478.0,2560.6 481.3,2559.4 482.8,2559.4C484.4,2559.4 487.9,2560.0 489.4,2560.4C490.9,2560.8 493.9,2561.6 495.4,2562.9C496.8,2564.2 500.1,2571.4 501.4,2571.4C502.7,2571.4 505.0,2565.1 506.4,2562.9C507.8,2560.7 511.2,2553.8 512.9,2552.9C514.6,2552.0 518.6,2555.0 520.4,2555.4C522.2,2555.8 526.1,2556.7 527.9,2556.4C529.7,2556.1 533.6,2552.9 535.4,2552.9C537.2,2552.9 541.2,2555.2 543.0,2556.4C544.8,2557.6 548.5,2562.0 550.5,2562.9C552.5,2563.9 557.4,2565.0 559.5,2564.4C561.6,2563.8 566.1,2558.4 568.0,2557.9C569.9,2557.4 573.7,2561.0 575.5,2560.4C577.3,2559.8 581.4,2553.5 583.0,2552.9C584.7,2552.3 587.9,2555.4 589.5,2555.4C591.2,2555.4 594.9,2552.3 596.6,2552.9C598.2,2553.5 601.4,2559.2 603.1,2560.4C604.8,2561.6 609.0,2563.8 610.6,2562.9C612.2,2562.0 615.1,2555.1 616.6,2552.9C618.1,2550.7 621.5,2545.8 623.1,2544.4C624.7,2543.0 628.2,2540.4 629.6,2541.4C631.0,2542.4 633.3,2549.7 634.6,2552.9C636.0,2556.1 639.2,2565.5 640.6,2567.9C642.1,2570.3 645.2,2573.5 646.7,2572.9C648.2,2572.3 651.6,2564.9 653.2,2562.9C654.7,2560.9 658.1,2556.4 659.7,2556.4C661.3,2556.4 665.1,2561.8 666.7,2562.9C668.3,2564.0 671.6,2565.7 673.2,2565.4C674.8,2565.1 678.1,2561.6 679.7,2560.4C681.3,2559.2 685.1,2557.3 686.7,2555.4C688.4,2553.5 691.7,2545.6 693.2,2544.4C694.8,2543.2 698.3,2544.5 699.8,2545.4C701.3,2546.2 704.3,2551.7 705.8,2551.4C707.2,2551.1 710.6,2549.0 711.8,2542.9C713.0,2536.8 714.8,2512.6 715.8,2500.3C716.7,2488.0 718.8,2451.6 719.8,2440.2C720.8,2428.8 723.0,2409.6 723.8,2405.1C724.6,2400.6 726.1,2399.6 726.8,2402.6C727.5,2405.6 729.0,2416.6 729.8,2430.2C730.6,2443.7 732.5,2492.5 733.3,2515.3C734.2,2538.2 735.9,2599.2 736.8,2620.5C737.7,2641.9 740.0,2683.8 740.8,2693.2C741.7,2702.5 743.1,2701.5 743.8,2698.2C744.6,2694.9 746.0,2676.1 746.8,2665.6C747.7,2655.1 749.8,2621.3 750.9,2610.5C751.9,2599.7 754.7,2580.4 755.9,2575.4C757.1,2570.5 759.5,2569.1 760.9,2569.4C762.2,2569.7 765.4,2577.8 766.9,2577.9C768.4,2578.1 771.8,2573.1 773.4,2570.4C775.0,2567.7 778.5,2560.2 779.9,2555.4C781.3,2550.6 783.7,2535.5 784.9,2530.4C786.1,2525.2 788.8,2514.7 789.9,2512.8C791.0,2510.9 792.7,2513.1 793.9,2514.3C795.1,2515.5 798.9,2517.2 800.0,2522.9C801.1,2528.7 802.1,2554.7 802.8,2562.6C803.6,2570.6 805.4,2586.9 806.2,2589.6C807.1,2592.3 809.0,2587.9 809.9,2585.3C810.9,2582.8 813.3,2571.2 814.2,2568.3C815.1,2565.4 816.6,2561.9 817.6,2561.2C818.5,2560.5 821.1,2562.8 822.1,2562.6C823.1,2562.5 825.2,2562.2 826.1,2559.8C827.0,2557.4 829.0,2549.9 829.8,2542.8C830.6,2535.7 831.9,2512.2 832.6,2500.3C833.3,2488.4 834.8,2458.9 835.4,2443.6C836.1,2428.2 837.6,2389.0 838.3,2372.7C839.0,2356.3 840.4,2319.4 841.1,2307.4C841.8,2295.5 843.3,2278.2 844.0,2273.4C844.6,2268.7 846.1,2267.8 846.8,2267.8C847.5,2267.8 848.9,2268.7 849.6,2273.4C850.3,2278.2 851.8,2293.8 852.5,2307.4C853.1,2321.1 854.6,2367.1 855.3,2386.8C856.0,2406.6 857.4,2451.5 858.1,2471.9C858.8,2492.3 860.3,2538.3 861.0,2557.0C861.6,2575.7 863.1,2610.9 863.8,2627.9C864.5,2644.9 866.0,2684.8 866.6,2698.8C867.2,2712.7 868.4,2738.2 868.9,2744.1C869.4,2750.1 870.4,2749.1 870.9,2748.4C871.4,2747.7 872.6,2744.4 873.2,2738.4C873.7,2732.5 874.6,2710.3 875.1,2698.8C875.7,2687.2 876.9,2652.9 877.4,2642.0C877.9,2631.2 878.9,2613.1 879.4,2608.0C879.9,2602.9 881.1,2599.5 881.7,2599.5C882.2,2599.5 883.4,2602.9 883.9,2608.0C884.5,2613.1 885.8,2632.9 886.5,2642.0C887.1,2651.2 888.6,2678.1 889.3,2684.6C890.0,2691.0 891.5,2695.2 892.2,2695.9C892.8,2696.6 894.3,2695.0 895.0,2690.2C895.7,2685.5 897.1,2666.8 897.8,2656.2C898.5,2645.7 900.0,2612.9 900.7,2602.3C901.3,2591.8 902.8,2573.4 903.5,2568.3C904.2,2563.2 905.3,2560.8 906.3,2559.8C907.4,2558.9 910.5,2560.5 912.0,2560.4C913.5,2560.2 917.6,2558.1 919.1,2558.4C920.6,2558.7 923.5,2561.7 924.8,2562.6C926.1,2563.6 928.8,2567.1 929.9,2566.0C930.9,2565.0 932.5,2558.6 933.3,2554.1C934.0,2549.6 935.4,2532.9 936.1,2528.6C936.8,2524.4 938.1,2520.1 938.9,2518.7C939.8,2517.3 942.2,2517.1 943.2,2517.3C944.1,2517.4 946.0,2518.2 946.9,2520.1C947.7,2522.0 949.4,2530.2 950.3,2532.9C951.2,2535.5 953.5,2541.4 954.5,2542.2C955.6,2543.1 957.8,2541.3 958.8,2540.0C959.8,2538.7 962.2,2536.2 963.0,2531.5C963.9,2526.7 965.2,2507.1 965.9,2500.3C966.6,2493.5 968.0,2478.1 968.7,2474.7C969.4,2471.3 970.9,2471.6 971.6,2471.9C972.2,2472.2 973.7,2472.5 974.4,2477.6C975.1,2482.7 976.5,2503.2 977.2,2514.4C977.9,2525.7 979.4,2560.3 980.1,2571.2C980.7,2582.0 982.2,2600.9 982.9,2605.2C983.6,2609.4 985.1,2609.0 985.7,2606.6C986.3,2604.2 987.2,2596.4 987.7,2585.3C988.2,2574.3 989.4,2536.6 990.0,2514.4C990.6,2492.3 992.1,2428.2 992.8,2401.0C993.5,2373.8 995.0,2307.7 995.7,2287.6C996.3,2267.5 997.4,2241.0 997.9,2233.7C998.4,2226.4 999.4,2227.0 999.9,2226.6C1000.4,2226.3 1001.4,2225.3 1001.9,2230.9C1002.4,2236.5 1003.5,2254.7 1004.2,2273.4C1004.8,2292.1 1006.3,2357.9 1007.0,2386.8C1007.7,2415.8 1009.1,2483.8 1009.8,2514.4C1010.5,2545.1 1012.1,2616.5 1012.7,2642.0C1013.3,2667.6 1014.4,2708.4 1014.9,2727.1C1015.4,2745.8 1016.4,2786.8 1016.9,2798.0C1017.4,2809.2 1018.4,2817.8 1018.9,2820.7C1019.4,2823.6 1020.6,2824.8 1021.2,2822.1C1021.7,2819.4 1022.9,2809.4 1023.4,2798.0C1024.0,2786.6 1024.9,2744.1 1025.4,2727.1C1025.9,2710.1 1026.9,2671.2 1027.4,2656.2C1027.9,2641.2 1029.1,2612.2 1029.7,2602.3C1030.2,2592.5 1031.3,2577.7 1031.9,2574.0C1032.6,2570.2 1034.1,2569.8 1034.8,2571.2C1035.5,2572.5 1036.9,2580.2 1037.6,2585.3C1038.3,2590.4 1039.8,2608.6 1040.5,2613.7C1041.1,2618.8 1042.5,2625.8 1043.3,2627.9C1044.0,2629.9 1045.9,2631.7 1046.7,2630.7C1047.4,2629.7 1048.8,2624.8 1049.5,2619.4C1050.2,2613.9 1051.7,2591.5 1052.4,2585.3C1053.0,2579.2 1054.4,2570.5 1055.2,2568.3C1055.9,2566.1 1057.9,2565.9 1058.6,2566.9C1059.3,2567.9 1060.7,2572.9 1061.4,2576.8C1062.2,2580.7 1064.2,2596.1 1065.1,2599.5C1066.0,2602.9 1067.9,2604.8 1068.8,2605.2C1069.7,2605.5 1071.9,2604.7 1072.8,2602.3C1073.7,2600.0 1075.5,2590.4 1076.5,2585.3C1077.4,2580.2 1080.0,2562.7 1080.7,2559.8C1081.5,2556.9 1082.1,2562.4 1082.8,2560.9C1083.6,2559.3 1086.0,2548.9 1087.1,2546.7C1088.2,2544.5 1090.8,2542.4 1091.9,2542.4C1093.0,2542.4 1095.5,2545.2 1096.4,2546.7C1097.4,2548.2 1099.0,2553.8 1099.8,2555.2C1100.7,2556.6 1102.4,2558.7 1103.3,2558.0C1104.1,2557.4 1106.2,2554.0 1106.9,2549.5C1107.7,2545.1 1109.1,2530.7 1109.8,2521.2C1110.5,2511.6 1111.9,2481.7 1112.6,2470.1C1113.3,2458.6 1114.8,2431.9 1115.4,2424.8C1116.1,2417.6 1117.6,2412.5 1118.3,2410.6C1119.0,2408.7 1120.4,2408.1 1121.1,2409.2C1121.8,2410.2 1123.3,2411.8 1124.0,2419.1C1124.6,2426.4 1126.1,2455.5 1126.8,2470.1C1127.5,2484.8 1129.0,2526.7 1129.6,2541.0C1130.2,2555.3 1131.3,2582.1 1131.9,2589.2C1132.5,2596.4 1133.9,2599.4 1134.4,2600.6C1135.0,2601.8 1136.2,2601.2 1136.7,2599.1C1137.3,2597.1 1138.4,2592.2 1139.0,2583.6C1139.5,2574.9 1140.7,2541.8 1141.2,2526.8C1141.8,2511.9 1143.0,2472.4 1143.5,2458.8C1144.1,2445.2 1145.2,2420.7 1145.8,2413.4C1146.3,2406.1 1147.4,2399.9 1148.1,2397.8C1148.7,2395.8 1150.2,2395.2 1150.9,2396.4C1151.6,2397.6 1153.0,2400.3 1153.7,2407.8C1154.4,2415.2 1155.9,2444.5 1156.6,2458.8C1157.2,2473.1 1158.7,2510.2 1159.4,2526.8C1160.1,2543.5 1161.6,2582.4 1162.2,2597.7C1162.8,2613.0 1164.0,2641.9 1164.5,2654.4C1165.0,2667.0 1166.2,2692.8 1166.8,2702.6C1167.3,2712.5 1168.5,2730.5 1169.0,2736.7C1169.6,2742.8 1170.8,2751.6 1171.3,2753.7C1171.8,2755.8 1173.0,2755.6 1173.6,2754.3C1174.1,2752.9 1175.3,2747.5 1175.8,2742.3C1176.4,2737.2 1177.6,2720.0 1178.1,2711.2C1178.7,2702.3 1179.8,2678.8 1180.4,2668.6C1180.9,2658.4 1182.0,2633.6 1182.6,2626.1C1183.3,2618.6 1184.7,2610.0 1185.5,2606.2C1186.3,2602.5 1188.2,2598.0 1189.2,2594.9C1190.1,2591.8 1192.4,2584.5 1193.4,2580.7C1194.4,2577.0 1196.7,2566.8 1197.7,2563.7C1198.7,2560.6 1200.9,2556.6 1201.9,2555.2C1202.9,2553.8 1205.1,2552.1 1206.2,2551.8C1207.3,2551.5 1210.0,2551.3 1211.0,2552.4C1212.0,2553.5 1213.8,2558.1 1214.7,2560.9C1215.6,2563.6 1217.5,2571.8 1218.4,2575.0C1219.2,2578.3 1221.0,2585.8 1221.8,2587.8C1222.6,2589.8 1224.3,2591.5 1225.2,2591.5C1226.0,2591.5 1228.0,2590.1 1228.9,2587.8C1229.8,2585.5 1231.6,2575.3 1232.6,2572.2C1233.5,2569.1 1235.6,2564.0 1236.5,2562.3C1237.4,2560.6 1239.3,2558.0 1240.2,2558.0C1241.1,2558.0 1243.0,2561.6 1243.9,2562.3C1244.7,2563.0 1246.4,2564.9 1247.3,2563.7C1248.2,2562.5 1250.5,2554.4 1251.6,2552.4C1252.6,2550.3 1254.9,2548.4 1255.8,2546.7C1256.7,2545.0 1258.5,2541.9 1259.2,2538.2C1260.0,2534.4 1261.4,2523.0 1262.0,2515.5C1262.7,2508.0 1264.2,2486.0 1264.9,2475.8C1265.6,2465.6 1267.0,2438.1 1267.7,2430.4C1268.4,2422.8 1269.9,2414.6 1270.5,2412.0C1271.2,2409.5 1272.2,2408.7 1272.8,2409.2C1273.4,2409.7 1275.0,2411.7 1275.7,2416.3C1276.3,2420.9 1277.4,2437.6 1277.9,2447.4C1278.5,2457.3 1279.6,2485.6 1280.2,2498.5C1280.7,2511.4 1281.9,2540.9 1282.5,2555.2C1283.0,2569.5 1284.2,2604.7 1284.7,2617.6C1285.3,2630.5 1286.4,2655.1 1287.0,2662.9C1287.5,2670.8 1288.7,2680.4 1289.3,2682.8C1289.9,2685.2 1291.5,2684.5 1292.1,2682.8C1292.7,2681.1 1293.8,2674.4 1294.4,2668.6C1294.9,2662.8 1296.1,2643.4 1296.6,2634.6C1297.2,2625.7 1298.4,2602.4 1298.9,2594.9C1299.4,2587.4 1300.4,2575.8 1301.2,2572.2C1302.0,2568.6 1304.4,2565.3 1305.4,2565.1C1306.4,2565.0 1308.7,2570.3 1309.7,2570.8C1310.7,2571.3 1312.9,2570.6 1313.9,2569.4C1315.0,2568.2 1317.2,2562.8 1318.2,2560.9C1319.2,2558.9 1321.4,2554.0 1322.4,2552.9C1323.5,2551.9 1325.5,2552.5 1326.7,2552.4C1327.9,2552.2 1331.0,2551.6 1332.4,2551.8C1333.7,2552.0 1336.8,2554.7 1338.0,2553.8C1339.2,2552.8 1341.3,2544.7 1342.3,2543.9C1343.3,2543.0 1345.3,2546.0 1346.5,2546.7C1347.7,2547.4 1351.0,2549.4 1352.2,2549.5C1353.4,2549.7 1355.4,2549.3 1356.5,2548.1C1357.5,2546.9 1359.7,2541.0 1360.7,2539.6C1361.7,2538.2 1364.0,2537.6 1365.0,2536.8C1366.0,2535.9 1368.6,2533.0 1369.2,2532.5C1369.8,2532.0 1369.1,2533.0 1370.1,2532.7C1371.1,2532.4 1375.9,2529.3 1377.6,2530.2C1379.3,2531.1 1382.6,2536.6 1384.1,2540.2C1385.6,2543.8 1388.7,2557.2 1390.1,2560.2C1391.5,2563.2 1394.6,2565.5 1396.1,2565.2C1397.6,2564.9 1400.9,2559.2 1402.6,2557.7C1404.3,2556.2 1408.3,2553.1 1410.1,2552.7C1411.9,2552.3 1415.8,2554.8 1417.6,2554.2C1419.4,2553.6 1423.4,2548.7 1425.2,2547.7C1427.0,2546.7 1430.9,2546.0 1432.7,2546.2C1434.5,2546.4 1438.4,2549.0 1440.2,2549.2C1442.0,2549.4 1446.0,2549.1 1447.7,2547.7C1449.4,2546.3 1452.7,2539.2 1454.2,2537.7C1455.7,2536.2 1458.8,2534.0 1460.2,2535.2C1461.7,2536.4 1464.9,2545.2 1466.2,2547.7C1467.6,2550.2 1469.9,2556.2 1471.2,2556.2C1472.6,2556.2 1476.4,2549.3 1477.8,2547.7C1479.1,2546.1 1481.4,2541.8 1482.8,2542.7C1484.2,2543.6 1487.8,2554.2 1489.3,2555.2C1490.8,2556.2 1493.7,2552.4 1495.3,2551.2C1496.9,2550.0 1501.0,2546.2 1502.8,2545.2C1504.6,2544.2 1508.5,2542.7 1510.3,2542.7C1512.1,2542.7 1516.0,2544.2 1517.8,2545.2C1519.6,2546.2 1523.5,2551.2 1525.3,2551.2C1527.2,2551.2 1531.1,2546.2 1532.9,2545.2C1534.7,2544.2 1538.8,2541.6 1540.4,2542.7C1542.0,2543.8 1544.9,2552.4 1546.4,2554.2C1547.9,2556.0 1551.3,2558.5 1552.9,2557.7C1554.5,2556.9 1557.9,2549.3 1559.4,2547.7C1560.9,2546.1 1564.0,2543.2 1565.4,2544.2C1566.9,2545.2 1569.9,2555.5 1571.4,2556.2C1572.9,2556.9 1576.4,2550.3 1577.9,2550.2C1579.5,2550.1 1583.0,2554.0 1584.5,2555.2C1586.0,2556.4 1589.0,2559.7 1590.5,2560.2C1591.9,2560.7 1595.2,2561.0 1596.5,2559.2C1597.8,2557.4 1600.1,2547.5 1601.5,2545.2C1602.9,2542.9 1606.4,2539.0 1608.0,2540.2C1609.6,2541.4 1613.0,2553.3 1614.5,2555.2C1616.0,2557.1 1618.9,2556.3 1620.5,2556.2C1622.2,2556.1 1626.2,2554.8 1628.0,2554.2C1629.8,2553.6 1633.8,2552.0 1635.6,2551.2C1637.4,2550.4 1641.4,2546.9 1643.1,2547.7C1644.8,2548.5 1648.1,2556.2 1649.6,2557.7C1651.1,2559.2 1654.3,2560.8 1655.6,2560.2C1656.9,2559.6 1659.5,2554.8 1660.6,2552.7C1661.7,2550.6 1664.1,2543.9 1664.6,2542.7" fill="none" stroke="#0018be" stroke-width="11" stroke-linejoin="round"/>
<path d="M868.8,1580.8C865.9,1575.9 861.5,1574.0 857.6,1574.0C851.8,1574.0 847.4,1578.9 847.4,1585.7C847.4,1592.0 848.9,1596.9 852.3,1600.3L868.8,1616.8L885.3,1600.3C888.7,1596.9 890.2,1592.0 890.2,1585.7C890.2,1578.9 885.8,1574.0 880.0,1574.0C876.1,1574.0 871.7,1575.9 868.8,1580.8Z" fill="#00ff00"/>
<path d="M955.0,1605.8C952.1,1600.9 947.7,1599.0 943.8,1599.0C938.0,1599.0 933.6,1603.9 933.6,1610.7C933.6,1617.0 935.1,1621.9 938.5,1625.3L955.0,1641.8L971.5,1625.3C974.9,1621.9 976.4,1617.0 976.4,1610.7C976.4,1603.9 972.0,1599.0 966.2,1599.0C962.3,1599.0 957.9,1600.9 955.0,1605.8Z" fill="#00ff00"/>
<path d="M1101.8,1582.8C1098.9,1577.9 1094.5,1576.0 1090.6,1576.0C1084.8,1576.0 1080.4,1580.9 1080.4,1587.7C1080.4,1594.0 1081.9,1598.9 1085.3,1602.3L1101.8,1618.8L1118.3,1602.3C1121.7,1598.9 1123.2,1594.0 1123.2,1587.7C1123.2,1580.9 1118.8,1576.0 1113.0,1576.0C1109.1,1576.0 1104.7,1577.9 1101.8,1582.8Z" fill="#00ff00"/>
<path d="M1254.6,1595.8C1251.7,1590.9 1247.3,1589.0 1243.4,1589.0C1237.6,1589.0 1233.2,1593.9 1233.2,1600.7C1233.2,1607.0 1234.7,1611.9 1238.1,1615.3L1254.6,1631.8L1271.1,1615.3C1274.5,1611.9 1276.0,1607.0 1276.0,1600.7C1276.0,1593.9 1271.6,1589.0 1265.8,1589.0C1261.9,1589.0 1257.5,1590.9 1254.6,1595.8Z" fill="#00ff00"/>
<path d="M859.8,1831.8C856.9,1826.9 852.5,1825.0 848.6,1825.0C842.8,1825.0 838.4,1829.9 838.4,1836.7C838.4,1843.0 839.9,1847.9 843.3,1851.3L859.8,1867.8L876.3,1851.3C879.7,1847.9 881.2,1843.0 881.2,1836.7C881.2,1829.9 876.8,1825.0 871.0,1825.0C867.1,1825.0 862.7,1826.9 859.8,1831.8Z" fill="#00ff00"/>
<path d="M949.0,1866.8C946.1,1861.9 941.7,1860.0 937.8,1860.0C932.0,1860.0 927.6,1864.9 927.6,1871.7C927.6,1878.0 929.1,1882.9 932.5,1886.3L949.0,1902.8L965.5,1886.3C968.9,1882.9 970.4,1878.0 970.4,1871.7C970.4,1864.9 966.0,1860.0 960.2,1860.0C956.3,1860.0 951.9,1861.9 949.0,1866.8Z" fill="#00ff00"/>
<path d="M1099.8,1842.8C1096.9,1837.9 1092.5,1836.0 1088.6,1836.0C1082.8,1836.0 1078.4,1840.9 1078.4,1847.7C1078.4,1854.0 1079.9,1858.9 1083.3,1862.3L1099.8,1878.8L1116.3,1862.3C1119.7,1858.9 1121.2,1854.0 1121.2,1847.7C1121.2,1840.9 1116.8,1836.0 1111.0,1836.0C1107.1,1836.0 1102.7,1837.9 1099.8,1842.8Z" fill="#00ff00"/>
<path d="M1246.0,1846.8C1243.1,1841.9 1238.7,1840.0 1234.8,1840.0C1229.0,1840.0 1224.6,1844.9 1224.6,1851.7C1224.6,1858.0 1226.1,1862.9 1229.5,1866.3L1246.0,1882.8L1262.5,1866.3C1265.9,1862.9 1267.4,1858.0 1267.4,1851.7C1267.4,1844.9 1263.0,1840.0 1257.2,1840.0C1253.3,1840.0 1248.9,1841.9 1246.0,1846.8Z" fill="#00ff00"/>
<path d="M830.6,2194.6C827.7,2189.7 823.3,2187.8 819.4,2187.8C813.6,2187.8 809.2,2192.7 809.2,2199.5C809.2,2205.8 810.7,2210.7 814.1,2214.1L830.6,2230.6L847.1,2214.1C850.5,2210.7 852.0,2205.8 852.0,2199.5C852.0,2192.7 847.6,2187.8 841.8,2187.8C837.9,2187.8 833.5,2189.7 830.6,2194.6Z" fill="#00ff00"/>
<path d="M987.4,2157.3C984.5,2152.4 980.1,2150.5 976.2,2150.5C970.4,2150.5 966.0,2155.4 966.0,2162.2C966.0,2168.5 967.5,2173.4 970.9,2176.8L987.4,2193.3L1003.9,2176.8C1007.3,2173.4 1008.8,2168.5 1008.8,2162.2C1008.8,2155.4 1004.4,2150.5 998.6,2150.5C994.7,2150.5 990.3,2152.4 987.4,2157.3Z" fill="#00ff00"/>
<path d="M1134.9,2334.6C1132.0,2329.7 1127.6,2327.8 1123.7,2327.8C1117.9,2327.8 1113.5,2332.7 1113.5,2339.5C1113.5,2345.8 1115.0,2350.7 1118.4,2354.1L1134.9,2370.6L1151.4,2354.1C1154.8,2350.7 1156.3,2345.8 1156.3,2339.5C1156.3,2332.7 1151.9,2327.8 1146.1,2327.8C1142.2,2327.8 1137.8,2329.7 1134.9,2334.6Z" fill="#00ff00"/>
<path d="M1258.9,2340.3C1256.0,2335.4 1251.6,2333.5 1247.7,2333.5C1241.9,2333.5 1237.5,2338.4 1237.5,2345.2C1237.5,2351.5 1239.0,2356.4 1242.4,2359.8L1258.9,2376.3L1275.4,2359.8C1278.8,2356.4 1280.3,2351.5 1280.3,2345.2C1280.3,2338.4 1275.9,2333.5 1270.1,2333.5C1266.2,2333.5 1261.8,2335.4 1258.9,2340.3Z" fill="#00ff00"/>
<path d="M1401.5,1544.6C1398.5,1539.6 1394.1,1537.6 1390.1,1537.6C1384.2,1537.6 1379.8,1542.6 1379.8,1549.5C1379.8,1556.0 1381.2,1560.9 1384.7,1564.4L1401.5,1581.3L1418.3,1564.4C1421.8,1560.9 1423.2,1556.0 1423.2,1549.5C1423.2,1542.6 1418.8,1537.6 1412.9,1537.6C1408.9,1537.6 1404.5,1539.6 1401.5,1544.6Z" fill="#00ff00"/>
<text x="1449.5" y="1584.9" font-size="73" font-weight="bold">DMPO<tspan dy="-6.5">–</tspan><tspan dy="6.5">•OH</tspan></text>
<path d="M1312,2155.0H1472.5" stroke="#008000" stroke-width="10.2" fill="none"/>
<path d="M1312,2251.3H1472.5" stroke="#ff42ab" stroke-width="10.8" fill="none"/>
<path d="M1312,2358.5H1472.5" stroke="#0018be" stroke-width="10.8" fill="none"/>
<text font-size="50.0" font-weight="bold" letter-spacing="0.30"><tspan x="1489.8" y="2178.0">O</tspan><tspan x="1530.0" y="2193.0" font-size="35.0">3</tspan></text>
<text font-size="50.0" font-weight="bold" letter-spacing="0.30"><tspan x="1485.2" y="2276.5">O</tspan><tspan x="1525.5" y="2291.5" font-size="35.0">3</tspan><tspan x="1544.9" y="2276.5">/CaO</tspan><tspan x="1659.6" y="2291.5" font-size="35.0">2</tspan></text>
<text font-size="50.0" font-weight="bold" letter-spacing="0.30"><tspan x="1485.2" y="2382.5">O</tspan><tspan x="1525.5" y="2397.5" font-size="35.0">3</tspan><tspan x="1544.9" y="2382.5">/CaO</tspan><tspan x="1659.6" y="2397.5" font-size="35.0">2</tspan><tspan x="1678.6" y="2382.5">/HCO</tspan><tspan x="1809.5" y="2397.5" font-size="35.0">3</tspan><tspan x="1825.8" y="2350.0" font-size="30.8">−</tspan></text>
<rect x="143" y="3139.5" width="1706.5" height="1350" fill="none" stroke="#000" stroke-width="10.6"/>
<path d="M346.5,4485V4463M561.1,4485V4463M775.7,4485V4463M990.4,4485V4463M1205.0,4485V4463M1419.6,4485V4463M1634.2,4485V4463" stroke="#000" stroke-width="10.4" fill="none"/>
<g font-size="73" font-weight="bold" text-anchor="middle">
<text x="345.5" y="4575">3400</text>
<text x="560.1" y="4575">3420</text>
<text x="774.7" y="4575">3440</text>
<text x="989.4" y="4575">3460</text>
<text x="1204.0" y="4575">3480</text>
<text x="1418.6" y="4575">3500</text>
<text x="1633.2" y="4575">3520</text>
<text x="1847.8" y="4575">3540</text>
</g>
<text x="996.5" y="4692.0" font-size="71.5" font-weight="bold" text-anchor="middle" >Field(G)</text>
<text transform="translate(82,3812) rotate(-90)" font-size="69.5" font-weight="bold" text-anchor="middle">Intensity(a.u.)</text>
<text x="176.0" y="3257.5" font-size="118.0" font-weight="bold" text-anchor="start" >(c)</text>
<path d="M292.0,3384.7L296.0,3384.7L300.0,3384.7L304.0,3384.7L308.0,3384.7L312.0,3384.7L316.0,3384.7L320.0,3384.7L324.0,3384.7L328.0,3384.7L332.0,3384.7L336.0,3384.7L340.0,3384.7L344.0,3384.7L348.0,3384.7L352.0,3384.7L356.0,3384.7L360.0,3384.7L364.0,3384.7L368.0,3384.7L372.0,3384.7L376.0,3384.7L380.0,3384.7L384.0,3384.7L388.0,3384.6L392.0,3384.6L396.0,3384.6L400.0,3384.6L404.0,3384.6L408.0,3384.6L412.0,3384.6L416.0,3384.6L420.0,3384.6L424.0,3384.6L428.0,3384.6L432.0,3384.6L436.0,3384.6L440.0,3384.6L444.0,3384.6L448.0,3384.6L452.0,3384.6L456.0,3384.6L460.0,3384.6L464.0,3384.6L468.0,3384.6L472.0,3384.6L476.0,3384.6L480.0,3384.6L484.0,3384.6L488.0,3384.6L492.0,3384.6L496.0,3384.6L500.0,3384.6L504.0,3384.6L508.0,3384.6L512.0,3384.6L516.0,3384.6L520.0,3384.6L524.0,3384.5L528.0,3384.5L532.0,3384.5L536.0,3384.5L540.0,3384.5L544.0,3384.5L548.0,3384.5L552.0,3384.5L556.0,3384.5L560.0,3384.5L564.0,3384.5L568.0,3384.4L572.0,3384.4L576.0,3384.4L580.0,3384.4L584.0,3384.4L588.0,3384.4L592.0,3384.4L596.0,3384.3L600.0,3384.3L604.0,3384.3L608.0,3384.3L612.0,3384.2L616.0,3384.2L620.0,3384.2L624.0,3384.1L628.0,3384.1L632.0,3384.1L636.0,3384.0L640.0,3384.0L644.0,3383.9L648.0,3383.8L652.0,3383.8L656.0,3383.7L660.0,3383.6L664.0,3383.5L668.0,3383.4L672.0,3383.3L676.0,3383.1L680.0,3383.0L684.0,3382.8L688.0,3382.6L692.0,3382.3L696.0,3382.1L700.0,3381.8L704.0,3381.4L708.0,3380.9L712.0,3380.4L716.0,3379.8L720.0,3379.1L724.0,3378.2L728.0,3377.2L732.0,3375.9L736.0,3374.5L740.0,3372.7L744.0,3370.5L748.0,3368.0L752.0,3365.2L756.0,3362.0L760.0,3358.8L764.0,3356.0L768.0,3354.4L772.0,3355.2L776.0,3359.4L780.0,3367.7L784.0,3379.4L788.0,3392.2L792.0,3403.2L796.0,3410.5L800.0,3413.7L804.0,3413.7L808.0,3411.7L812.0,3408.7L816.0,3405.5L820.0,3402.3L824.0,3399.5L828.0,3397.0L832.0,3394.9L836.0,3393.1L840.0,3391.5L844.0,3390.2L848.0,3389.1L852.0,3388.1L856.0,3387.2L860.0,3386.4L864.0,3385.7L868.0,3384.9L872.0,3384.2L876.0,3383.5L880.0,3382.7L884.0,3381.9L888.0,3381.0L892.0,3380.0L896.0,3378.9L900.0,3377.6L904.0,3376.0L908.0,3374.2L912.0,3372.1L916.0,3369.6L920.0,3366.7L924.0,3363.6L928.0,3360.4L932.0,3357.5L936.0,3355.7L940.0,3356.0L944.0,3359.6L948.0,3367.3L952.0,3378.5L956.0,3391.0L960.0,3402.1L964.0,3409.8L968.0,3413.4L972.0,3413.8L976.0,3412.0L980.0,3409.1L984.0,3405.8L988.0,3402.7L992.0,3399.9L996.0,3397.4L1000.0,3395.2L1004.0,3393.4L1008.0,3391.9L1012.0,3390.6L1016.0,3389.4L1020.0,3388.4L1024.0,3387.5L1028.0,3386.7L1032.0,3385.9L1036.0,3385.2L1040.0,3384.5L1044.0,3383.8L1048.0,3383.0L1052.0,3382.2L1056.0,3381.3L1060.0,3380.3L1064.0,3379.2L1068.0,3377.8L1072.0,3376.3L1076.0,3374.5L1080.0,3372.3L1084.0,3369.9L1088.0,3367.1L1092.0,3364.0L1096.0,3361.0L1100.0,3358.5L1104.0,3357.4L1108.0,3358.6L1112.0,3363.3L1116.0,3371.8L1120.0,3383.1L1124.0,3394.9L1128.0,3404.5L1132.0,3410.6L1136.0,3413.0L1140.0,3412.5L1144.0,3410.4L1148.0,3407.6L1152.0,3404.5L1156.0,3401.7L1160.0,3399.2L1164.0,3397.0L1168.0,3395.2L1172.0,3393.6L1176.0,3392.3L1180.0,3391.3L1184.0,3390.4L1188.0,3389.6L1192.0,3389.0L1196.0,3388.5L1200.0,3388.0L1204.0,3387.7L1208.0,3387.3L1212.0,3387.0L1216.0,3386.8L1220.0,3386.6L1224.0,3386.4L1228.0,3386.2L1232.0,3386.1L1236.0,3386.0L1240.0,3385.9L1244.0,3385.8L1248.0,3385.7L1252.0,3385.6L1256.0,3385.5L1260.0,3385.5L1264.0,3385.4L1268.0,3385.4L1272.0,3385.3L1276.0,3385.3L1280.0,3385.2L1284.0,3385.2L1288.0,3385.2L1292.0,3385.2L1296.0,3385.1L1300.0,3385.1L1304.0,3385.1L1308.0,3385.1L1312.0,3385.0L1316.0,3385.0L1320.0,3385.0L1324.0,3385.0L1328.0,3385.0L1332.0,3385.0L1336.0,3384.9L1340.0,3384.9L1344.0,3384.9L1348.0,3384.9L1352.0,3384.9L1356.0,3384.9L1360.0,3384.9L1364.0,3384.9L1368.0,3384.9L1372.0,3384.9L1376.0,3384.9L1380.0,3384.9L1384.0,3384.8L1388.0,3384.8L1392.0,3384.8L1396.0,3384.8L1400.0,3384.8L1404.0,3384.8L1408.0,3384.8L1412.0,3384.8L1416.0,3384.8L1420.0,3384.8L1424.0,3384.8L1428.0,3384.8L1432.0,3384.8L1436.0,3384.8L1440.0,3384.8L1444.0,3384.8L1448.0,3384.8L1452.0,3384.8L1456.0,3384.8L1460.0,3384.8L1464.0,3384.8L1468.0,3384.8L1472.0,3384.8L1476.0,3384.8L1480.0,3384.8L1484.0,3384.8L1488.0,3384.8L1492.0,3384.8L1496.0,3384.8L1500.0,3384.8L1504.0,3384.8L1508.0,3384.8L1512.0,3384.8L1516.0,3384.7L1520.0,3384.7L1524.0,3384.7L1528.0,3384.7L1532.0,3384.7L1536.0,3384.7L1540.0,3384.7L1544.0,3384.7L1548.0,3384.7L1552.0,3384.7L1556.0,3384.7L1560.0,3384.7L1564.0,3384.7L1568.0,3384.7L1572.0,3384.7L1576.0,3384.7L1580.0,3384.7L1584.0,3384.7L1588.0,3384.7L1592.0,3384.7L1596.0,3384.7L1600.0,3384.7L1604.0,3384.7L1608.0,3384.7L1612.0,3384.7L1616.0,3384.7L1620.0,3384.7L1624.0,3384.7L1628.0,3384.7L1632.0,3384.7L1636.0,3384.7L1640.0,3384.7L1644.0,3384.7" fill="none" stroke="#008000" stroke-width="10.5" stroke-linejoin="round"/>
<path d="M292.0,3753.6C311.0,3753.6 417.8,3753.4 450.0,3753.3C482.2,3753.2 539.6,3752.7 560.0,3752.5C580.4,3752.3 609.2,3751.9 620.0,3751.7C630.8,3751.5 643.7,3751.5 650.0,3751.2C656.3,3751.0 667.2,3750.1 672.7,3749.5C678.1,3749.0 690.6,3747.7 695.4,3746.7C700.1,3745.7 708.6,3743.1 712.4,3741.0C716.1,3739.0 723.5,3733.1 726.6,3729.7C729.6,3726.3 735.2,3718.4 737.9,3712.7C740.6,3706.9 746.9,3689.3 749.2,3681.5C751.6,3673.6 755.9,3654.6 757.8,3647.4C759.6,3640.3 763.1,3625.8 764.6,3621.9C766.1,3618.0 768.9,3615.1 770.2,3615.1C771.6,3615.1 774.5,3615.3 775.9,3621.9C777.3,3628.5 780.2,3655.5 781.6,3670.1C782.9,3684.8 785.9,3726.2 787.2,3743.9C788.6,3761.6 791.7,3804.3 792.9,3817.6C794.1,3830.9 796.2,3848.9 797.4,3854.4C798.7,3860.0 801.8,3863.7 803.1,3864.1C804.5,3864.4 807.3,3860.8 808.8,3857.3C810.3,3853.7 813.6,3841.4 815.6,3834.6C817.6,3827.8 823.2,3808.1 825.8,3800.6C828.4,3793.1 834.4,3777.7 837.1,3772.2C839.9,3766.8 846.1,3758.3 848.5,3755.2C850.9,3752.1 855.1,3747.9 857.0,3746.7C858.9,3745.5 862.7,3744.3 864.4,3745.0C866.1,3745.7 869.7,3750.5 871.2,3752.4C872.7,3754.3 875.3,3759.7 876.8,3760.9C878.3,3762.0 881.9,3762.7 883.6,3762.0C885.3,3761.3 888.8,3758.4 891.0,3755.2C893.3,3752.0 899.6,3741.5 902.4,3735.3C905.1,3729.2 911.3,3712.0 913.7,3704.2C916.1,3696.3 920.2,3678.6 922.2,3670.1C924.3,3661.6 929.0,3639.5 930.7,3633.3C932.4,3627.0 935.0,3619.7 936.4,3618.0C937.8,3616.3 940.7,3615.6 942.1,3619.1C943.4,3622.6 946.4,3634.5 947.7,3647.4C949.1,3660.4 952.0,3708.5 953.4,3726.8C954.8,3745.2 957.7,3786.3 959.1,3800.6C960.4,3814.9 963.4,3839.0 964.7,3845.9C966.1,3852.9 969.1,3857.7 970.4,3858.4C971.8,3859.1 974.7,3855.1 976.1,3851.6C977.4,3848.1 980.4,3833.7 981.8,3828.9C983.1,3824.2 985.7,3814.6 987.4,3811.9C989.1,3809.2 993.9,3807.7 995.9,3806.2C998.0,3804.7 1002.4,3801.8 1004.4,3799.4C1006.5,3797.1 1010.6,3789.7 1012.9,3786.4C1015.3,3783.1 1021.2,3775.6 1024.3,3772.2C1027.4,3768.8 1035.1,3761.1 1038.5,3758.0C1041.9,3755.0 1049.2,3749.8 1052.6,3746.7C1056.0,3743.6 1063.8,3736.6 1066.8,3732.5C1069.9,3728.4 1075.4,3718.8 1078.2,3712.7C1080.9,3706.5 1087.1,3689.6 1089.5,3681.5C1091.9,3673.3 1096.3,3652.1 1098.0,3644.6C1099.7,3637.1 1102.5,3622.6 1103.7,3619.1C1104.9,3615.6 1107.0,3614.4 1108.2,3615.1C1109.4,3615.8 1112.7,3616.8 1113.9,3624.8C1115.1,3632.7 1117.2,3663.8 1118.4,3681.5C1119.7,3699.2 1122.7,3753.2 1124.1,3772.2C1125.5,3791.3 1128.4,3828.4 1129.8,3840.3C1131.1,3852.2 1134.2,3866.8 1135.4,3871.5C1136.7,3876.1 1139.3,3879.2 1140.5,3878.8C1141.8,3878.5 1144.7,3873.9 1146.2,3868.6C1147.8,3863.3 1151.6,3843.1 1153.6,3834.6C1155.6,3826.1 1160.7,3804.5 1163.2,3797.7C1165.8,3790.9 1171.5,3781.6 1174.6,3777.9C1177.6,3774.1 1185.0,3768.6 1188.8,3766.5C1192.5,3764.5 1201.0,3761.9 1205.8,3760.9C1210.5,3759.8 1223.1,3758.6 1228.4,3758.0C1233.8,3757.5 1242.6,3756.9 1250.0,3756.3C1257.4,3755.8 1272.0,3754.0 1290.0,3753.6C1308.0,3753.2 1372.4,3752.7 1400.0,3752.6C1427.6,3752.5 1490.3,3752.5 1520.0,3752.5C1549.7,3752.5 1632.2,3752.5 1647.5,3752.5" fill="none" stroke="#ff42ab" stroke-width="10.5" stroke-linejoin="round"/>
<path d="M292.0,4120.6C311.0,4120.6 417.8,4120.5 450.0,4120.4C482.2,4120.3 540.2,4120.1 560.0,4119.9C579.8,4119.7 604.2,4119.3 615.0,4118.9C625.8,4118.5 643.8,4117.3 650.0,4116.7C656.2,4116.2 662.9,4115.4 667.0,4114.5C671.1,4113.5 680.3,4110.7 684.0,4108.8C687.8,4106.9 695.1,4101.9 698.2,4098.6C701.3,4095.3 706.8,4087.0 709.5,4081.6C712.3,4076.1 718.5,4060.7 720.9,4053.2C723.3,4045.7 727.4,4028.7 729.4,4019.2C731.4,4009.7 736.0,3983.7 737.9,3973.8C739.8,3964.0 743.6,3942.4 745.3,3937.0C746.9,3931.5 750.2,3928.1 751.5,3928.5C752.9,3928.8 755.5,3932.3 756.6,3939.8C757.7,3947.3 759.6,3973.1 760.6,3990.8C761.5,4008.5 763.5,4063.4 764.6,4087.2C765.6,4111.1 768.0,4168.9 769.1,4189.3C770.2,4209.7 772.5,4244.8 773.6,4257.4C774.7,4270.0 777.1,4288.9 778.2,4294.2C779.2,4299.5 781.0,4302.0 782.1,4301.6C783.2,4301.3 785.9,4296.7 787.2,4291.4C788.5,4286.1 791.3,4267.6 792.9,4257.4C794.5,4247.2 798.4,4217.2 800.3,4206.3C802.2,4195.4 806.5,4174.5 808.8,4166.6C811.0,4158.8 816.3,4145.9 819.0,4141.1C821.7,4136.4 828.3,4129.7 831.5,4126.9C834.7,4124.2 842.2,4120.5 845.7,4118.4C849.1,4116.4 856.4,4112.6 859.8,4109.9C863.2,4107.2 870.9,4099.8 874.0,4095.7C877.1,4091.7 882.8,4081.7 885.3,4075.9C887.9,4070.1 892.7,4055.7 895.0,4047.5C897.2,4039.4 902.2,4017.7 904.1,4007.8C906.0,3998.0 909.4,3973.8 910.9,3965.3C912.4,3956.8 915.4,3941.0 916.5,3937.0C917.7,3932.9 919.5,3930.6 920.5,3931.3C921.5,3932.0 924.0,3934.8 925.0,3942.6C926.1,3950.5 928.0,3977.8 929.0,3996.5C930.0,4015.2 932.5,4074.1 933.6,4098.6C934.6,4123.1 937.0,4180.2 938.1,4200.7C939.2,4221.1 941.5,4256.8 942.6,4268.7C943.7,4280.6 946.1,4295.7 947.2,4299.9C948.2,4304.1 950.0,4304.6 951.1,4303.9C952.2,4303.2 954.9,4299.8 956.2,4294.2C957.5,4288.7 960.4,4267.2 961.9,4257.4C963.4,4247.5 966.8,4222.6 968.7,4212.0C970.6,4201.5 975.5,4177.6 977.8,4169.5C980.0,4161.3 984.9,4148.7 987.4,4144.0C989.9,4139.2 995.7,4132.6 998.8,4129.8C1001.8,4126.9 1009.3,4122.5 1012.9,4120.1C1016.6,4117.8 1025.3,4112.9 1028.8,4109.9C1032.4,4107.0 1039.4,4099.8 1042.4,4095.7C1045.4,4091.7 1051.2,4081.7 1053.8,4075.9C1056.4,4070.1 1061.7,4055.4 1064.0,4047.5C1066.2,4039.7 1070.7,4019.9 1072.5,4010.7C1074.3,4001.5 1077.9,3978.8 1079.3,3971.0C1080.7,3963.2 1083.3,3949.0 1084.4,3945.5C1085.5,3941.9 1087.4,3940.8 1088.4,3941.5C1089.4,3942.2 1091.9,3943.9 1092.9,3951.1C1093.9,3958.4 1095.9,3983.8 1096.9,4002.2C1097.9,4020.6 1100.3,4079.1 1101.4,4104.3C1102.5,4129.4 1104.9,4190.9 1106.0,4212.0C1107.0,4233.1 1109.5,4268.8 1110.5,4280.1C1111.5,4291.3 1113.5,4302.0 1114.5,4305.6C1115.4,4309.1 1117.3,4310.6 1118.4,4309.5C1119.5,4308.5 1122.2,4303.3 1123.5,4297.1C1124.9,4290.8 1128.1,4268.9 1129.8,4257.4C1131.5,4245.8 1135.7,4211.6 1137.7,4200.7C1139.7,4189.8 1144.0,4173.1 1146.2,4166.6C1148.4,4160.2 1153.3,4150.5 1155.9,4146.8C1158.4,4143.0 1163.9,4137.7 1167.2,4135.4C1170.5,4133.2 1178.8,4129.4 1183.1,4128.1C1187.4,4126.8 1197.5,4125.3 1202.9,4124.7C1208.4,4124.1 1222.8,4123.2 1228.4,4123.0C1234.1,4122.7 1241.4,4122.5 1250.0,4122.4C1258.6,4122.3 1282.0,4122.0 1300.0,4121.9C1318.0,4121.8 1373.6,4121.5 1400.0,4121.4C1426.4,4121.3 1490.6,4121.2 1520.0,4121.2C1549.4,4121.2 1630.2,4121.1 1645.2,4121.1" fill="none" stroke="#0018be" stroke-width="10.7" stroke-linejoin="round"/>
<path d="M774.2,3280.6 L799.7,3306.1 L774.2,3331.6 L748.7,3306.1 Z" fill="#00dc00"/>
<path d="M947.2,3275.5 L972.7,3301.0 L947.2,3326.5 L921.7,3301.0 Z" fill="#00dc00"/>
<path d="M1107.1,3290.9 L1132.6,3316.4 L1107.1,3341.9 L1081.6,3316.4 Z" fill="#00dc00"/>
<path d="M783.3,3545.4 L808.8,3570.9 L783.3,3596.4 L757.8,3570.9 Z" fill="#00dc00"/>
<path d="M950.0,3539.7 L975.5,3565.2 L950.0,3590.7 L924.5,3565.2 Z" fill="#00dc00"/>
<path d="M1108.2,3538.6 L1133.7,3564.1 L1108.2,3589.6 L1082.7,3564.1 Z" fill="#00dc00"/>
<path d="M760.0,3867.5 L785.5,3893.0 L760.0,3918.5 L734.5,3893.0 Z" fill="#00dc00"/>
<path d="M933.6,3871.5 L959.1,3897.0 L933.6,3922.5 L908.1,3897.0 Z" fill="#00dc00"/>
<path d="M1091.8,3871.5 L1117.3,3897.0 L1091.8,3922.5 L1066.3,3897.0 Z" fill="#00dc00"/>
<path d="M1416.3,3190.8 L1444.1,3217.2 L1416.3,3243.6 L1388.5,3217.2 Z" fill="#2cff2c"/>
<text x="1448.5" y="3242.5" font-size="72.0" font-weight="bold" letter-spacing="1.1"><tspan dy="0.0" font-size="72.0">TMPO–</tspan><tspan dy="-18.5" font-size="50.4">1</tspan><tspan dy="18.5" font-size="72.0">O</tspan><tspan dy="18.0" font-size="50.4">2</tspan></text>
<path d="M1311.6,3469.0H1429.7" stroke="#008000" stroke-width="10" fill="none"/>
<path d="M1311.6,3550.5H1429.7" stroke="#ff42ab" stroke-width="10" fill="none"/>
<path d="M1311.6,3640.5H1429.7" stroke="#0018be" stroke-width="10" fill="none"/>
<text font-size="56.0" font-weight="bold" letter-spacing="0.00"><tspan x="1441.0" y="3489.5">O</tspan><tspan x="1484.9" y="3506.3" font-size="39.2">3</tspan></text>
<text font-size="56.0" font-weight="bold" letter-spacing="0.00"><tspan x="1441.0" y="3570.5">O</tspan><tspan x="1484.9" y="3587.3" font-size="39.2">3</tspan><tspan x="1509.8" y="3570.5">/CaO</tspan><tspan x="1635.1" y="3587.3" font-size="39.2">2</tspan></text>
<text font-size="56.0" font-weight="bold" letter-spacing="0.00"><tspan x="1441.0" y="3660.5">O</tspan><tspan x="1484.9" y="3677.3" font-size="39.2">3</tspan><tspan x="1509.8" y="3660.5">/CaO</tspan><tspan x="1635.1" y="3677.3" font-size="39.2">2</tspan><tspan x="1655.7" y="3660.5">/HCO</tspan><tspan x="1798.3" y="3677.3" font-size="39.2">3</tspan><tspan x="1817.4" y="3637.7" font-size="34.5">−</tspan></text>
</svg></body></html>
